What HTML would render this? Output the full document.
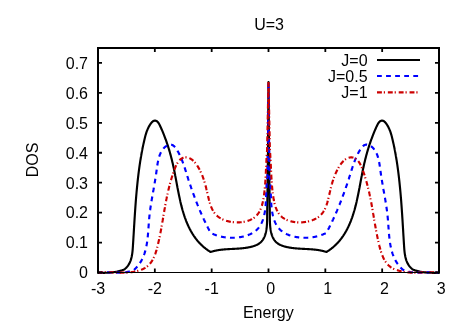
<!DOCTYPE html>
<html><head><meta charset="utf-8"><style>
html,body{margin:0;padding:0;background:#fff;}
svg{display:block;will-change:transform;}
text{font-family:"Liberation Sans",sans-serif;font-size:16px;fill:#000;}
</style></head><body>
<svg width="463" height="324" viewBox="0 0 463 324">
<rect width="463" height="324" fill="#fff"/>
<path d="M98.00,272.80 L98.52,272.81 L99.03,272.82 L99.55,272.82 L100.07,272.83 L100.58,272.83 L101.10,272.83 L101.62,272.83 L102.14,272.83 L102.65,272.83 L103.17,272.83 L103.69,272.82 L104.21,272.81 L104.73,272.81 L105.24,272.79 L105.76,272.78 L106.28,272.76 L106.79,272.74 L107.31,272.72 L107.83,272.69 L108.34,272.66 L108.86,272.63 L109.37,272.60 L109.89,272.56 L110.40,272.52 L110.92,272.47 L111.43,272.42 L111.95,272.37 L112.46,272.31 L112.97,272.25 L113.48,272.19 L113.99,272.12 L114.50,272.04 L115.01,271.96 L115.52,271.88 L116.02,271.79 L116.53,271.69 L117.04,271.60 L117.54,271.49 L118.04,271.38 L118.55,271.27 L119.05,271.15 L119.55,271.02 L120.05,270.89 L120.55,270.75 L121.04,270.60 L121.54,270.45 L122.03,270.30 L122.53,270.13 L123.02,269.96 L123.51,269.78 L124.00,269.60 L124.00,269.60 L124.42,269.29 L124.82,268.97 L125.21,268.64 L125.59,268.31 L125.95,267.97 L126.30,267.62 L126.64,267.27 L126.97,266.90 L127.28,266.53 L127.58,266.16 L127.87,265.78 L128.15,265.39 L128.41,264.99 L128.67,264.59 L128.92,264.19 L129.15,263.78 L129.38,263.36 L129.59,262.94 L129.80,262.51 L129.99,262.08 L130.18,261.64 L130.36,261.20 L130.53,260.75 L130.69,260.30 L130.84,259.84 L130.99,259.38 L131.13,258.92 L131.26,258.45 L131.38,257.98 L131.50,257.50 L131.61,257.03 L131.72,256.55 L131.81,256.06 L131.91,255.57 L131.99,255.08 L132.08,254.59 L132.15,254.09 L132.23,253.60 L132.29,253.10 L132.36,252.60 L132.42,252.09 L132.47,251.59 L132.53,251.08 L132.58,250.57 L132.62,250.06 L132.67,249.55 L132.71,249.04 L132.75,248.53 L132.79,248.01 L132.82,247.50 L132.86,246.99 L132.89,246.47 L132.93,245.96 L132.96,245.44 L132.99,244.93 L133.02,244.42 L133.06,243.90 L133.09,243.39 L133.12,242.88 L133.15,242.37 L133.18,241.85 L133.21,241.34 L133.25,240.83 L133.28,240.32 L133.31,239.81 L133.34,239.30 L133.37,238.79 L133.40,238.28 L133.43,237.77 L133.46,237.26 L133.49,236.75 L133.52,236.24 L133.56,235.74 L133.59,235.23 L133.62,234.72 L133.65,234.21 L133.68,233.71 L133.71,233.20 L133.74,232.69 L133.77,232.19 L133.80,231.68 L133.83,231.18 L133.86,230.67 L133.89,230.17 L133.92,229.66 L133.95,229.16 L133.98,228.65 L134.01,228.15 L134.04,227.64 L134.07,227.14 L134.10,226.64 L134.13,226.13 L134.16,225.63 L134.20,225.13 L134.23,224.62 L134.26,224.12 L134.29,223.62 L134.32,223.12 L134.35,222.62 L134.38,222.12 L134.41,221.61 L134.44,221.11 L134.47,220.61 L134.50,220.11 L134.54,219.61 L134.57,219.11 L134.60,218.61 L134.63,218.11 L134.66,217.61 L134.70,217.11 L134.73,216.61 L134.76,216.11 L134.79,215.61 L134.82,215.11 L134.86,214.61 L134.89,214.11 L134.92,213.62 L134.96,213.12 L134.99,212.62 L135.02,212.12 L135.06,211.62 L135.09,211.12 L135.12,210.63 L135.16,210.13 L135.19,209.63 L135.23,209.13 L135.26,208.64 L135.30,208.14 L135.33,207.64 L135.37,207.14 L135.40,206.65 L135.44,206.15 L135.48,205.65 L135.51,205.16 L135.55,204.66 L135.59,204.16 L135.62,203.67 L135.66,203.17 L135.70,202.67 L135.74,202.18 L135.77,201.68 L135.81,201.18 L135.85,200.69 L135.89,200.19 L135.93,199.69 L135.97,199.20 L136.01,198.70 L136.05,198.21 L136.09,197.71 L136.13,197.21 L136.17,196.72 L136.21,196.22 L136.25,195.73 L136.30,195.23 L136.34,194.73 L136.38,194.24 L136.43,193.74 L136.47,193.25 L136.51,192.75 L136.56,192.25 L136.60,191.76 L136.65,191.26 L136.69,190.77 L136.74,190.27 L136.78,189.77 L136.83,189.28 L136.88,188.78 L136.92,188.29 L136.97,187.79 L137.02,187.29 L137.07,186.80 L137.12,186.30 L137.17,185.81 L137.22,185.31 L137.27,184.81 L137.32,184.32 L137.37,183.82 L137.42,183.32 L137.47,182.83 L137.52,182.33 L137.58,181.83 L137.63,181.34 L137.68,180.84 L137.74,180.34 L137.79,179.84 L137.85,179.35 L137.90,178.85 L137.96,178.35 L138.02,177.86 L138.08,177.36 L138.13,176.86 L138.19,176.36 L138.25,175.87 L138.31,175.37 L138.37,174.87 L138.43,174.37 L138.49,173.88 L138.55,173.38 L138.62,172.88 L138.68,172.38 L138.74,171.89 L138.81,171.39 L138.87,170.89 L138.94,170.39 L139.00,169.90 L139.07,169.40 L139.14,168.90 L139.20,168.40 L139.27,167.91 L139.34,167.41 L139.41,166.91 L139.48,166.41 L139.55,165.92 L139.62,165.42 L139.70,164.92 L139.77,164.42 L139.84,163.93 L139.92,163.43 L139.99,162.93 L140.07,162.44 L140.15,161.94 L140.22,161.44 L140.30,160.95 L140.38,160.45 L140.46,159.95 L140.54,159.46 L140.62,158.96 L140.70,158.46 L140.78,157.97 L140.87,157.47 L140.95,156.97 L141.04,156.48 L141.12,155.98 L141.21,155.49 L141.29,154.99 L141.38,154.50 L141.47,154.00 L141.56,153.51 L141.65,153.01 L141.74,152.52 L141.83,152.02 L141.93,151.53 L142.02,151.03 L142.12,150.54 L142.21,150.04 L142.31,149.55 L142.40,149.05 L142.50,148.56 L142.60,148.07 L142.70,147.57 L142.80,147.08 L142.90,146.59 L143.01,146.09 L143.11,145.60 L143.21,145.11 L143.32,144.61 L143.43,144.12 L143.53,143.63 L143.64,143.14 L143.75,142.65 L143.86,142.15 L143.97,141.66 L144.08,141.17 L144.20,140.68 L144.31,140.19 L144.42,139.70 L144.54,139.21 L144.66,138.72 L144.78,138.23 L144.90,137.74 L145.02,137.25 L145.14,136.76 L145.27,136.27 L145.40,135.79 L145.54,135.30 L145.67,134.82 L145.81,134.33 L145.96,133.85 L146.11,133.37 L146.26,132.89 L146.42,132.41 L146.59,131.93 L146.75,131.46 L146.93,130.98 L147.11,130.51 L147.30,130.04 L147.49,129.57 L147.69,129.10 L147.90,128.64 L148.11,128.17 L148.34,127.71 L148.57,127.25 L148.81,126.80 L149.05,126.34 L149.31,125.89 L149.57,125.44 L149.85,124.99 L150.13,124.55 L150.42,124.11 L150.73,123.68 L151.04,123.26 L151.36,122.86 L151.69,122.47 L152.03,122.12 L152.37,121.79 L152.73,121.49 L153.09,121.24 L153.46,121.02 L153.84,120.85 L154.23,120.73 L154.62,120.66 L155.00,120.64 L155.39,120.67 L155.77,120.74 L156.13,120.86 L156.48,121.02 L156.82,121.23 L157.15,121.47 L157.47,121.75 L157.77,122.06 L158.07,122.40 L158.35,122.77 L158.63,123.17 L158.89,123.59 L159.15,124.02 L159.41,124.48 L159.65,124.95 L159.90,125.43 L160.13,125.93 L160.36,126.43 L160.59,126.93 L160.82,127.44 L161.04,127.94 L161.26,128.45 L161.48,128.95 L161.70,129.45 L161.91,129.95 L162.12,130.45 L162.33,130.95 L162.54,131.44 L162.75,131.94 L162.95,132.43 L163.15,132.93 L163.35,133.42 L163.55,133.91 L163.74,134.40 L163.94,134.89 L164.13,135.38 L164.32,135.86 L164.51,136.35 L164.69,136.83 L164.88,137.32 L165.06,137.80 L165.24,138.29 L165.42,138.77 L165.60,139.25 L165.77,139.73 L165.95,140.21 L166.12,140.69 L166.29,141.17 L166.46,141.64 L166.62,142.12 L166.79,142.60 L166.95,143.07 L167.11,143.55 L167.27,144.02 L167.43,144.50 L167.59,144.97 L167.74,145.44 L167.90,145.92 L168.05,146.39 L168.20,146.86 L168.35,147.33 L168.50,147.80 L168.64,148.27 L168.79,148.74 L168.93,149.21 L169.07,149.69 L169.22,150.16 L169.36,150.62 L169.49,151.09 L169.63,151.56 L169.77,152.03 L169.90,152.50 L170.03,152.97 L170.16,153.44 L170.30,153.91 L170.42,154.38 L170.55,154.85 L170.68,155.32 L170.81,155.79 L170.93,156.26 L171.05,156.73 L171.18,157.20 L171.30,157.67 L171.42,158.14 L171.54,158.61 L171.66,159.08 L171.77,159.55 L171.89,160.02 L172.01,160.50 L172.12,160.97 L172.23,161.44 L172.35,161.92 L172.46,162.39 L172.57,162.86 L172.68,163.34 L172.79,163.81 L172.90,164.29 L173.00,164.76 L173.11,165.24 L173.22,165.72 L173.32,166.20 L173.43,166.68 L173.53,167.16 L173.63,167.64 L173.74,168.12 L173.84,168.60 L173.94,169.08 L174.04,169.57 L174.14,170.05 L174.24,170.54 L174.34,171.02 L174.44,171.51 L174.54,172.00 L174.63,172.49 L174.73,172.98 L174.83,173.47 L174.92,173.96 L175.02,174.45 L175.12,174.94 L175.21,175.44 L175.31,175.93 L175.40,176.43 L175.49,176.92 L175.59,177.42 L175.68,177.92 L175.78,178.42 L175.87,178.92 L175.96,179.42 L176.06,179.92 L176.15,180.42 L176.24,180.92 L176.34,181.42 L176.43,181.92 L176.52,182.42 L176.62,182.93 L176.71,183.43 L176.80,183.93 L176.90,184.44 L176.99,184.94 L177.09,185.45 L177.18,185.95 L177.28,186.46 L177.37,186.96 L177.47,187.47 L177.56,187.98 L177.66,188.48 L177.76,188.99 L177.85,189.49 L177.95,190.00 L178.05,190.51 L178.15,191.01 L178.25,191.52 L178.35,192.03 L178.45,192.53 L178.55,193.04 L178.65,193.55 L178.75,194.05 L178.85,194.56 L178.96,195.07 L179.06,195.57 L179.17,196.08 L179.27,196.58 L179.38,197.09 L179.49,197.60 L179.60,198.10 L179.71,198.60 L179.82,199.11 L179.93,199.61 L180.04,200.12 L180.15,200.62 L180.27,201.12 L180.38,201.63 L180.50,202.13 L180.62,202.63 L180.74,203.13 L180.86,203.63 L180.98,204.13 L181.10,204.63 L181.23,205.13 L181.35,205.63 L181.48,206.12 L181.61,206.62 L181.74,207.12 L181.87,207.61 L182.00,208.11 L182.13,208.60 L182.27,209.09 L182.41,209.58 L182.54,210.08 L182.68,210.57 L182.83,211.05 L182.97,211.54 L183.11,212.03 L183.26,212.52 L183.41,213.00 L183.56,213.49 L183.71,213.97 L183.86,214.45 L184.02,214.94 L184.18,215.42 L184.33,215.90 L184.49,216.37 L184.66,216.85 L184.82,217.33 L184.99,217.80 L185.16,218.27 L185.33,218.75 L185.50,219.22 L185.68,219.69 L185.85,220.15 L186.03,220.62 L186.21,221.09 L186.40,221.55 L186.58,222.01 L186.77,222.47 L186.96,222.93 L187.15,223.39 L187.35,223.85 L187.55,224.30 L187.75,224.76 L187.95,225.21 L188.15,225.66 L188.36,226.11 L188.57,226.55 L188.78,227.00 L189.00,227.44 L189.21,227.88 L189.43,228.32 L189.66,228.76 L189.88,229.20 L190.11,229.63 L190.34,230.07 L190.57,230.50 L190.81,230.92 L191.05,231.35 L191.29,231.78 L191.53,232.20 L191.78,232.62 L192.03,233.04 L192.28,233.46 L192.54,233.87 L192.80,234.28 L193.06,234.69 L193.33,235.10 L193.59,235.51 L193.86,235.91 L194.14,236.32 L194.42,236.71 L194.70,237.11 L194.98,237.51 L195.27,237.90 L195.56,238.29 L195.85,238.68 L196.15,239.06 L196.45,239.45 L196.75,239.83 L197.06,240.21 L197.37,240.58 L197.68,240.96 L198.00,241.33 L198.32,241.70 L198.65,242.06 L198.98,242.43 L199.31,242.79 L199.64,243.14 L199.98,243.50 L200.32,243.85 L200.67,244.20 L201.02,244.55 L201.37,244.89 L201.73,245.23 L202.09,245.57 L202.46,245.91 L202.82,246.24 L203.20,246.57 L203.57,246.90 L203.95,247.23 L204.34,247.55 L204.73,247.87 L205.12,248.18 L205.52,248.49 L205.92,248.80 L206.32,249.11 L206.73,249.41 L207.14,249.71 L207.56,250.01 L207.98,250.30 L208.41,250.59 L208.84,250.88 L209.27,251.17 L209.71,251.45 L210.15,251.73 L210.60,252.00 L210.60,252.00 L211.08,251.84 L211.56,251.69 L212.03,251.55 L212.51,251.41 L213.00,251.27 L213.48,251.14 L213.96,251.02 L214.45,250.90 L214.93,250.79 L215.42,250.68 L215.91,250.58 L216.40,250.48 L216.89,250.39 L217.38,250.30 L217.87,250.21 L218.36,250.13 L218.85,250.05 L219.35,249.98 L219.84,249.91 L220.34,249.84 L220.84,249.78 L221.33,249.72 L221.83,249.66 L222.33,249.61 L222.83,249.56 L223.33,249.51 L223.83,249.46 L224.33,249.42 L224.84,249.38 L225.34,249.34 L225.84,249.30 L226.35,249.26 L226.85,249.23 L227.36,249.20 L227.87,249.17 L228.37,249.14 L228.88,249.11 L229.39,249.08 L229.90,249.05 L230.41,249.03 L230.92,249.00 L231.43,248.98 L231.94,248.95 L232.45,248.93 L232.96,248.90 L233.47,248.87 L233.98,248.85 L234.49,248.82 L235.01,248.80 L235.52,248.77 L236.03,248.74 L236.54,248.71 L237.06,248.68 L237.57,248.65 L238.09,248.61 L238.60,248.58 L239.11,248.54 L239.63,248.50 L240.14,248.46 L240.66,248.42 L241.17,248.37 L241.69,248.32 L242.20,248.27 L242.72,248.22 L243.23,248.16 L243.75,248.10 L244.26,248.04 L244.78,247.98 L245.29,247.91 L245.81,247.83 L246.33,247.76 L246.84,247.68 L247.35,247.59 L247.87,247.50 L248.38,247.41 L248.90,247.31 L249.41,247.21 L249.92,247.10 L250.43,246.99 L250.93,246.87 L251.43,246.74 L251.93,246.61 L252.43,246.47 L252.92,246.33 L253.40,246.18 L253.88,246.02 L254.36,245.86 L254.83,245.68 L255.29,245.50 L255.75,245.32 L256.20,245.12 L256.64,244.92 L257.08,244.70 L257.51,244.48 L257.93,244.25 L258.34,244.01 L258.74,243.76 L259.13,243.50 L259.51,243.23 L259.88,242.96 L260.24,242.67 L260.59,242.37 L260.93,242.05 L261.25,241.73 L261.57,241.40 L261.87,241.06 L262.16,240.70 L262.44,240.34 L262.71,239.97 L262.97,239.59 L263.22,239.20 L263.46,238.80 L263.69,238.39 L263.91,237.97 L264.12,237.55 L264.32,237.12 L264.51,236.68 L264.69,236.23 L264.86,235.78 L265.03,235.32 L265.19,234.85 L265.34,234.38 L265.48,233.91 L265.61,233.42 L265.74,232.94 L265.86,232.44 L265.97,231.95 L266.08,231.45 L266.17,230.94 L266.27,230.43 L266.35,229.92 L266.44,229.40 L266.51,228.89 L266.58,228.37 L266.65,227.84 L266.70,227.32 L266.76,226.79 L266.81,226.26 L266.86,225.73 L266.90,225.20 L266.93,224.67 L266.97,224.14 L267.00,223.61 L267.03,223.08 L267.05,222.55 L267.07,222.02 L267.09,221.49 L267.10,220.96 L267.12,220.43 L267.13,219.91 L267.14,219.39 L267.15,218.87 L267.15,218.35 L267.16,217.84 L267.16,217.32 L267.16,216.82 L267.17,216.31 L267.17,215.81 L267.17,215.32 L267.17,214.83 L267.18,214.34 L267.18,213.86 L267.18,213.39 L267.19,212.92 L267.19,212.46 L267.20,212.00 L267.20,212.00 L268.00,150.00 L268.50,82.00 L269.00,150.00 L269.80,212.00 L269.80,212.00 L269.81,212.46 L269.81,212.92 L269.82,213.39 L269.82,213.86 L269.82,214.34 L269.83,214.83 L269.83,215.32 L269.83,215.81 L269.83,216.31 L269.84,216.82 L269.84,217.32 L269.84,217.84 L269.85,218.35 L269.85,218.87 L269.86,219.39 L269.87,219.91 L269.88,220.43 L269.90,220.96 L269.91,221.49 L269.93,222.02 L269.95,222.55 L269.97,223.08 L270.00,223.61 L270.03,224.14 L270.07,224.67 L270.10,225.20 L270.14,225.73 L270.19,226.26 L270.24,226.79 L270.30,227.32 L270.35,227.84 L270.42,228.37 L270.49,228.89 L270.56,229.40 L270.65,229.92 L270.73,230.43 L270.83,230.94 L270.92,231.45 L271.03,231.95 L271.14,232.44 L271.26,232.94 L271.39,233.42 L271.52,233.91 L271.66,234.38 L271.81,234.85 L271.97,235.32 L272.14,235.78 L272.31,236.23 L272.49,236.68 L272.68,237.12 L272.88,237.55 L273.09,237.97 L273.31,238.39 L273.54,238.80 L273.78,239.20 L274.03,239.59 L274.29,239.97 L274.56,240.34 L274.84,240.70 L275.13,241.06 L275.43,241.40 L275.75,241.73 L276.07,242.05 L276.41,242.37 L276.76,242.67 L277.12,242.96 L277.49,243.23 L277.87,243.50 L278.26,243.76 L278.66,244.01 L279.07,244.25 L279.49,244.48 L279.92,244.70 L280.36,244.92 L280.80,245.12 L281.25,245.32 L281.71,245.50 L282.17,245.68 L282.64,245.86 L283.12,246.02 L283.60,246.18 L284.08,246.33 L284.57,246.47 L285.07,246.61 L285.57,246.74 L286.07,246.87 L286.57,246.99 L287.08,247.10 L287.59,247.21 L288.10,247.31 L288.62,247.41 L289.13,247.50 L289.65,247.59 L290.16,247.68 L290.67,247.76 L291.19,247.83 L291.71,247.91 L292.22,247.98 L292.74,248.04 L293.25,248.10 L293.77,248.16 L294.28,248.22 L294.80,248.27 L295.31,248.32 L295.83,248.37 L296.34,248.42 L296.86,248.46 L297.37,248.50 L297.89,248.54 L298.40,248.58 L298.91,248.61 L299.43,248.65 L299.94,248.68 L300.46,248.71 L300.97,248.74 L301.48,248.77 L301.99,248.80 L302.51,248.82 L303.02,248.85 L303.53,248.87 L304.04,248.90 L304.55,248.93 L305.06,248.95 L305.57,248.98 L306.08,249.00 L306.59,249.03 L307.10,249.05 L307.61,249.08 L308.12,249.11 L308.63,249.14 L309.13,249.17 L309.64,249.20 L310.15,249.23 L310.65,249.26 L311.16,249.30 L311.66,249.34 L312.16,249.38 L312.67,249.42 L313.17,249.46 L313.67,249.51 L314.17,249.56 L314.67,249.61 L315.17,249.66 L315.67,249.72 L316.16,249.78 L316.66,249.84 L317.16,249.91 L317.65,249.98 L318.15,250.05 L318.64,250.13 L319.13,250.21 L319.62,250.30 L320.11,250.39 L320.60,250.48 L321.09,250.58 L321.58,250.68 L322.07,250.79 L322.55,250.90 L323.04,251.02 L323.52,251.14 L324.00,251.27 L324.49,251.41 L324.97,251.55 L325.44,251.69 L325.92,251.84 L326.40,252.00 L326.40,252.00 L326.85,251.73 L327.29,251.45 L327.73,251.17 L328.16,250.88 L328.59,250.59 L329.02,250.30 L329.44,250.01 L329.86,249.71 L330.27,249.41 L330.68,249.11 L331.08,248.80 L331.48,248.49 L331.88,248.18 L332.27,247.87 L332.66,247.55 L333.05,247.23 L333.43,246.90 L333.80,246.57 L334.18,246.24 L334.54,245.91 L334.91,245.57 L335.27,245.23 L335.63,244.89 L335.98,244.55 L336.33,244.20 L336.68,243.85 L337.02,243.50 L337.36,243.14 L337.69,242.79 L338.02,242.43 L338.35,242.06 L338.68,241.70 L339.00,241.33 L339.32,240.96 L339.63,240.58 L339.94,240.21 L340.25,239.83 L340.55,239.45 L340.85,239.06 L341.15,238.68 L341.44,238.29 L341.73,237.90 L342.02,237.51 L342.30,237.11 L342.58,236.71 L342.86,236.32 L343.14,235.91 L343.41,235.51 L343.67,235.10 L343.94,234.69 L344.20,234.28 L344.46,233.87 L344.72,233.46 L344.97,233.04 L345.22,232.62 L345.47,232.20 L345.71,231.78 L345.95,231.35 L346.19,230.92 L346.43,230.50 L346.66,230.07 L346.89,229.63 L347.12,229.20 L347.34,228.76 L347.57,228.32 L347.79,227.88 L348.00,227.44 L348.22,227.00 L348.43,226.55 L348.64,226.11 L348.85,225.66 L349.05,225.21 L349.25,224.76 L349.45,224.30 L349.65,223.85 L349.85,223.39 L350.04,222.93 L350.23,222.47 L350.42,222.01 L350.60,221.55 L350.79,221.09 L350.97,220.62 L351.15,220.15 L351.32,219.69 L351.50,219.22 L351.67,218.75 L351.84,218.27 L352.01,217.80 L352.18,217.33 L352.34,216.85 L352.51,216.37 L352.67,215.90 L352.82,215.42 L352.98,214.94 L353.14,214.45 L353.29,213.97 L353.44,213.49 L353.59,213.00 L353.74,212.52 L353.89,212.03 L354.03,211.54 L354.17,211.05 L354.32,210.57 L354.46,210.08 L354.59,209.58 L354.73,209.09 L354.87,208.60 L355.00,208.11 L355.13,207.61 L355.26,207.12 L355.39,206.62 L355.52,206.12 L355.65,205.63 L355.77,205.13 L355.90,204.63 L356.02,204.13 L356.14,203.63 L356.26,203.13 L356.38,202.63 L356.50,202.13 L356.62,201.63 L356.73,201.12 L356.85,200.62 L356.96,200.12 L357.07,199.61 L357.18,199.11 L357.29,198.60 L357.40,198.10 L357.51,197.60 L357.62,197.09 L357.73,196.58 L357.83,196.08 L357.94,195.57 L358.04,195.07 L358.15,194.56 L358.25,194.05 L358.35,193.55 L358.45,193.04 L358.55,192.53 L358.65,192.03 L358.75,191.52 L358.85,191.01 L358.95,190.51 L359.05,190.00 L359.15,189.49 L359.24,188.99 L359.34,188.48 L359.44,187.98 L359.53,187.47 L359.63,186.96 L359.72,186.46 L359.82,185.95 L359.91,185.45 L360.01,184.94 L360.10,184.44 L360.20,183.93 L360.29,183.43 L360.38,182.93 L360.48,182.42 L360.57,181.92 L360.66,181.42 L360.76,180.92 L360.85,180.42 L360.94,179.92 L361.04,179.42 L361.13,178.92 L361.22,178.42 L361.32,177.92 L361.41,177.42 L361.51,176.92 L361.60,176.43 L361.69,175.93 L361.79,175.44 L361.88,174.94 L361.98,174.45 L362.08,173.96 L362.17,173.47 L362.27,172.98 L362.37,172.49 L362.46,172.00 L362.56,171.51 L362.66,171.02 L362.76,170.54 L362.86,170.05 L362.96,169.57 L363.06,169.08 L363.16,168.60 L363.26,168.12 L363.37,167.64 L363.47,167.16 L363.57,166.68 L363.68,166.20 L363.78,165.72 L363.89,165.24 L364.00,164.76 L364.10,164.29 L364.21,163.81 L364.32,163.34 L364.43,162.86 L364.54,162.39 L364.65,161.92 L364.77,161.44 L364.88,160.97 L364.99,160.50 L365.11,160.02 L365.23,159.55 L365.34,159.08 L365.46,158.61 L365.58,158.14 L365.70,157.67 L365.82,157.20 L365.95,156.73 L366.07,156.26 L366.19,155.79 L366.32,155.32 L366.45,154.85 L366.58,154.38 L366.70,153.91 L366.84,153.44 L366.97,152.97 L367.10,152.50 L367.23,152.03 L367.37,151.56 L367.51,151.09 L367.64,150.62 L367.78,150.16 L367.93,149.69 L368.07,149.21 L368.21,148.74 L368.36,148.27 L368.50,147.80 L368.65,147.33 L368.80,146.86 L368.95,146.39 L369.10,145.92 L369.26,145.44 L369.41,144.97 L369.57,144.50 L369.73,144.02 L369.89,143.55 L370.05,143.07 L370.21,142.60 L370.38,142.12 L370.54,141.64 L370.71,141.17 L370.88,140.69 L371.05,140.21 L371.23,139.73 L371.40,139.25 L371.58,138.77 L371.76,138.29 L371.94,137.80 L372.12,137.32 L372.31,136.83 L372.49,136.35 L372.68,135.86 L372.87,135.38 L373.06,134.89 L373.26,134.40 L373.45,133.91 L373.65,133.42 L373.85,132.93 L374.05,132.43 L374.25,131.94 L374.46,131.44 L374.67,130.95 L374.88,130.45 L375.09,129.95 L375.30,129.45 L375.52,128.95 L375.74,128.45 L375.96,127.94 L376.18,127.44 L376.41,126.93 L376.64,126.43 L376.87,125.93 L377.10,125.43 L377.35,124.95 L377.59,124.48 L377.85,124.02 L378.11,123.59 L378.37,123.17 L378.65,122.77 L378.93,122.40 L379.23,122.06 L379.53,121.75 L379.85,121.47 L380.18,121.23 L380.52,121.02 L380.87,120.86 L381.23,120.74 L381.61,120.67 L382.00,120.64 L382.38,120.66 L382.77,120.73 L383.16,120.85 L383.54,121.02 L383.91,121.24 L384.27,121.49 L384.63,121.79 L384.97,122.12 L385.31,122.47 L385.64,122.86 L385.96,123.26 L386.27,123.68 L386.58,124.11 L386.87,124.55 L387.15,124.99 L387.43,125.44 L387.69,125.89 L387.95,126.34 L388.19,126.80 L388.43,127.25 L388.66,127.71 L388.89,128.17 L389.10,128.64 L389.31,129.10 L389.51,129.57 L389.70,130.04 L389.89,130.51 L390.07,130.98 L390.25,131.46 L390.41,131.93 L390.58,132.41 L390.74,132.89 L390.89,133.37 L391.04,133.85 L391.19,134.33 L391.33,134.82 L391.46,135.30 L391.60,135.79 L391.73,136.27 L391.86,136.76 L391.98,137.25 L392.10,137.74 L392.22,138.23 L392.34,138.72 L392.46,139.21 L392.58,139.70 L392.69,140.19 L392.80,140.68 L392.92,141.17 L393.03,141.66 L393.14,142.15 L393.25,142.65 L393.36,143.14 L393.47,143.63 L393.57,144.12 L393.68,144.61 L393.79,145.11 L393.89,145.60 L393.99,146.09 L394.10,146.59 L394.20,147.08 L394.30,147.57 L394.40,148.07 L394.50,148.56 L394.60,149.05 L394.69,149.55 L394.79,150.04 L394.88,150.54 L394.98,151.03 L395.07,151.53 L395.17,152.02 L395.26,152.52 L395.35,153.01 L395.44,153.51 L395.53,154.00 L395.62,154.50 L395.71,154.99 L395.79,155.49 L395.88,155.98 L395.96,156.48 L396.05,156.97 L396.13,157.47 L396.22,157.97 L396.30,158.46 L396.38,158.96 L396.46,159.46 L396.54,159.95 L396.62,160.45 L396.70,160.95 L396.78,161.44 L396.85,161.94 L396.93,162.44 L397.01,162.93 L397.08,163.43 L397.16,163.93 L397.23,164.42 L397.30,164.92 L397.38,165.42 L397.45,165.92 L397.52,166.41 L397.59,166.91 L397.66,167.41 L397.73,167.91 L397.80,168.40 L397.86,168.90 L397.93,169.40 L398.00,169.90 L398.06,170.39 L398.13,170.89 L398.19,171.39 L398.26,171.89 L398.32,172.38 L398.38,172.88 L398.45,173.38 L398.51,173.88 L398.57,174.37 L398.63,174.87 L398.69,175.37 L398.75,175.87 L398.81,176.36 L398.87,176.86 L398.92,177.36 L398.98,177.86 L399.04,178.35 L399.10,178.85 L399.15,179.35 L399.21,179.84 L399.26,180.34 L399.32,180.84 L399.37,181.34 L399.42,181.83 L399.48,182.33 L399.53,182.83 L399.58,183.32 L399.63,183.82 L399.68,184.32 L399.73,184.81 L399.78,185.31 L399.83,185.81 L399.88,186.30 L399.93,186.80 L399.98,187.29 L400.03,187.79 L400.08,188.29 L400.12,188.78 L400.17,189.28 L400.22,189.77 L400.26,190.27 L400.31,190.77 L400.35,191.26 L400.40,191.76 L400.44,192.25 L400.49,192.75 L400.53,193.25 L400.57,193.74 L400.62,194.24 L400.66,194.73 L400.70,195.23 L400.75,195.73 L400.79,196.22 L400.83,196.72 L400.87,197.21 L400.91,197.71 L400.95,198.21 L400.99,198.70 L401.03,199.20 L401.07,199.69 L401.11,200.19 L401.15,200.69 L401.19,201.18 L401.23,201.68 L401.26,202.18 L401.30,202.67 L401.34,203.17 L401.38,203.67 L401.41,204.16 L401.45,204.66 L401.49,205.16 L401.52,205.65 L401.56,206.15 L401.60,206.65 L401.63,207.14 L401.67,207.64 L401.70,208.14 L401.74,208.64 L401.77,209.13 L401.81,209.63 L401.84,210.13 L401.88,210.63 L401.91,211.12 L401.94,211.62 L401.98,212.12 L402.01,212.62 L402.04,213.12 L402.08,213.62 L402.11,214.11 L402.14,214.61 L402.18,215.11 L402.21,215.61 L402.24,216.11 L402.27,216.61 L402.30,217.11 L402.34,217.61 L402.37,218.11 L402.40,218.61 L402.43,219.11 L402.46,219.61 L402.50,220.11 L402.53,220.61 L402.56,221.11 L402.59,221.61 L402.62,222.12 L402.65,222.62 L402.68,223.12 L402.71,223.62 L402.74,224.12 L402.77,224.62 L402.80,225.13 L402.84,225.63 L402.87,226.13 L402.90,226.64 L402.93,227.14 L402.96,227.64 L402.99,228.15 L403.02,228.65 L403.05,229.16 L403.08,229.66 L403.11,230.17 L403.14,230.67 L403.17,231.18 L403.20,231.68 L403.23,232.19 L403.26,232.69 L403.29,233.20 L403.32,233.71 L403.35,234.21 L403.38,234.72 L403.41,235.23 L403.44,235.74 L403.48,236.24 L403.51,236.75 L403.54,237.26 L403.57,237.77 L403.60,238.28 L403.63,238.79 L403.66,239.30 L403.69,239.81 L403.72,240.32 L403.75,240.83 L403.79,241.34 L403.82,241.85 L403.85,242.37 L403.88,242.88 L403.91,243.39 L403.94,243.90 L403.98,244.42 L404.01,244.93 L404.04,245.44 L404.07,245.96 L404.11,246.47 L404.14,246.99 L404.18,247.50 L404.21,248.01 L404.25,248.53 L404.29,249.04 L404.33,249.55 L404.38,250.06 L404.42,250.57 L404.47,251.08 L404.53,251.59 L404.58,252.09 L404.64,252.60 L404.71,253.10 L404.77,253.60 L404.85,254.09 L404.92,254.59 L405.01,255.08 L405.09,255.57 L405.19,256.06 L405.28,256.55 L405.39,257.03 L405.50,257.50 L405.62,257.98 L405.74,258.45 L405.87,258.92 L406.01,259.38 L406.16,259.84 L406.31,260.30 L406.47,260.75 L406.64,261.20 L406.82,261.64 L407.01,262.08 L407.20,262.51 L407.41,262.94 L407.62,263.36 L407.85,263.78 L408.08,264.19 L408.33,264.59 L408.59,264.99 L408.85,265.39 L409.13,265.78 L409.42,266.16 L409.72,266.53 L410.03,266.90 L410.36,267.27 L410.70,267.62 L411.05,267.97 L411.41,268.31 L411.79,268.64 L412.18,268.97 L412.58,269.29 L413.00,269.60 L413.00,269.60 L413.49,269.78 L413.98,269.96 L414.47,270.13 L414.97,270.30 L415.46,270.45 L415.96,270.60 L416.45,270.75 L416.95,270.89 L417.45,271.02 L417.95,271.15 L418.45,271.27 L418.96,271.38 L419.46,271.49 L419.96,271.60 L420.47,271.69 L420.98,271.79 L421.48,271.88 L421.99,271.96 L422.50,272.04 L423.01,272.12 L423.52,272.19 L424.03,272.25 L424.54,272.31 L425.05,272.37 L425.57,272.42 L426.08,272.47 L426.60,272.52 L427.11,272.56 L427.63,272.60 L428.14,272.63 L428.66,272.66 L429.17,272.69 L429.69,272.72 L430.21,272.74 L430.72,272.76 L431.24,272.78 L431.76,272.79 L432.27,272.81 L432.79,272.81 L433.31,272.82 L433.83,272.83 L434.35,272.83 L434.86,272.83 L435.38,272.83 L435.90,272.83 L436.42,272.83 L436.93,272.83 L437.45,272.82 L437.97,272.82 L438.48,272.81 L439.00,272.80" stroke="#000" stroke-width="2.15" fill="none" stroke-linejoin="round"/>
<path d="M98.00,272.80 L98.48,272.72 L98.96,272.65 L99.44,272.58 L99.93,272.52 L100.42,272.47 L100.91,272.43 L101.40,272.39 L101.90,272.35 L102.39,272.32 L102.89,272.30 L103.39,272.28 L103.90,272.27 L104.40,272.26 L104.91,272.25 L105.42,272.25 L105.93,272.25 L106.44,272.26 L106.95,272.27 L107.46,272.28 L107.97,272.29 L108.49,272.31 L109.01,272.33 L109.52,272.34 L110.04,272.36 L110.56,272.39 L111.08,272.41 L111.60,272.43 L112.12,272.46 L112.64,272.48 L113.16,272.50 L113.68,272.52 L114.20,272.55 L114.73,272.57 L115.25,272.59 L115.77,272.60 L116.29,272.62 L116.81,272.63 L117.33,272.64 L117.85,272.65 L118.38,272.66 L118.89,272.66 L119.41,272.66 L119.93,272.65 L120.45,272.64 L120.97,272.63 L121.48,272.61 L122.00,272.59 L122.51,272.56 L123.02,272.52 L123.53,272.48 L124.04,272.44 L124.55,272.38 L125.06,272.33 L125.57,272.26 L126.07,272.19 L126.57,272.11 L127.07,272.02 L127.57,271.92 L128.07,271.82 L128.56,271.71 L129.05,271.59 L129.54,271.46 L130.03,271.32 L130.51,271.17 L131.00,271.01 L131.48,270.84 L131.95,270.66 L132.43,270.47 L132.90,270.27 L133.37,270.06 L133.84,269.84 L134.30,269.60 L134.30,269.60 L134.68,269.25 L135.06,268.90 L135.43,268.54 L135.79,268.18 L136.14,267.82 L136.49,267.45 L136.83,267.08 L137.16,266.70 L137.49,266.32 L137.81,265.94 L138.12,265.56 L138.43,265.17 L138.73,264.78 L139.02,264.38 L139.31,263.98 L139.59,263.58 L139.86,263.17 L140.13,262.76 L140.39,262.35 L140.65,261.94 L140.90,261.52 L141.14,261.10 L141.38,260.67 L141.61,260.25 L141.84,259.82 L142.06,259.38 L142.28,258.95 L142.49,258.51 L142.69,258.07 L142.89,257.63 L143.09,257.18 L143.28,256.73 L143.46,256.28 L143.64,255.83 L143.82,255.37 L143.99,254.92 L144.16,254.46 L144.32,253.99 L144.48,253.53 L144.63,253.06 L144.78,252.59 L144.92,252.12 L145.06,251.65 L145.20,251.18 L145.33,250.70 L145.46,250.22 L145.58,249.74 L145.70,249.26 L145.82,248.77 L145.93,248.29 L146.04,247.80 L146.15,247.31 L146.25,246.82 L146.35,246.33 L146.45,245.84 L146.55,245.34 L146.64,244.85 L146.72,244.35 L146.81,243.85 L146.89,243.35 L146.97,242.85 L147.05,242.35 L147.12,241.84 L147.19,241.34 L147.26,240.83 L147.33,240.33 L147.40,239.82 L147.46,239.31 L147.52,238.80 L147.58,238.30 L147.63,237.79 L147.69,237.27 L147.74,236.76 L147.80,236.25 L147.85,235.74 L147.89,235.23 L147.94,234.71 L147.99,234.20 L148.03,233.68 L148.08,233.17 L148.12,232.66 L148.16,232.14 L148.20,231.63 L148.24,231.11 L148.28,230.60 L148.32,230.08 L148.36,229.57 L148.39,229.05 L148.43,228.54 L148.47,228.02 L148.50,227.51 L148.54,226.99 L148.57,226.48 L148.61,225.96 L148.65,225.45 L148.68,224.94 L148.72,224.43 L148.75,223.92 L148.79,223.40 L148.83,222.89 L148.87,222.38 L148.90,221.88 L148.94,221.37 L148.98,220.86 L149.02,220.35 L149.07,219.85 L149.11,219.34 L149.15,218.84 L149.20,218.34 L149.24,217.84 L149.29,217.34 L149.34,216.84 L149.39,216.34 L149.44,215.84 L149.49,215.35 L149.55,214.85 L149.60,214.36 L149.66,213.86 L149.72,213.37 L149.78,212.88 L149.83,212.39 L149.90,211.90 L149.96,211.41 L150.02,210.93 L150.08,210.44 L150.15,209.95 L150.22,209.47 L150.28,208.98 L150.35,208.50 L150.42,208.01 L150.49,207.53 L150.56,207.05 L150.63,206.57 L150.70,206.08 L150.78,205.60 L150.85,205.12 L150.93,204.64 L151.00,204.16 L151.08,203.68 L151.15,203.20 L151.23,202.72 L151.31,202.24 L151.39,201.76 L151.47,201.28 L151.55,200.81 L151.63,200.33 L151.71,199.85 L151.79,199.37 L151.87,198.89 L151.95,198.41 L152.04,197.93 L152.12,197.46 L152.20,196.98 L152.29,196.50 L152.37,196.02 L152.46,195.54 L152.54,195.06 L152.63,194.58 L152.71,194.10 L152.80,193.62 L152.88,193.14 L152.97,192.66 L153.06,192.17 L153.14,191.69 L153.23,191.21 L153.31,190.73 L153.40,190.24 L153.49,189.76 L153.57,189.27 L153.66,188.79 L153.75,188.30 L153.83,187.81 L153.92,187.33 L154.01,186.84 L154.09,186.35 L154.18,185.86 L154.26,185.37 L154.35,184.87 L154.44,184.38 L154.52,183.89 L154.61,183.39 L154.69,182.90 L154.77,182.40 L154.86,181.90 L154.94,181.40 L155.03,180.90 L155.11,180.40 L155.19,179.90 L155.27,179.39 L155.35,178.89 L155.44,178.38 L155.52,177.87 L155.60,177.37 L155.68,176.85 L155.75,176.34 L155.83,175.83 L155.91,175.31 L155.99,174.80 L156.06,174.28 L156.14,173.76 L156.21,173.24 L156.29,172.72 L156.36,172.19 L156.43,171.67 L156.51,171.14 L156.58,170.61 L156.65,170.08 L156.72,169.55 L156.79,169.02 L156.87,168.49 L156.94,167.95 L157.01,167.42 L157.09,166.89 L157.17,166.36 L157.25,165.83 L157.33,165.30 L157.41,164.77 L157.49,164.24 L157.58,163.72 L157.67,163.19 L157.77,162.67 L157.86,162.15 L157.97,161.63 L158.07,161.12 L158.18,160.60 L158.29,160.09 L158.41,159.59 L158.53,159.08 L158.66,158.58 L158.79,158.09 L158.92,157.60 L159.07,157.11 L159.22,156.63 L159.37,156.15 L159.53,155.67 L159.70,155.21 L159.87,154.74 L160.05,154.29 L160.24,153.83 L160.44,153.39 L160.64,152.95 L160.85,152.52 L161.07,152.09 L161.30,151.67 L161.53,151.26 L161.78,150.85 L162.03,150.45 L162.29,150.06 L162.56,149.68 L162.85,149.31 L163.14,148.94 L163.44,148.58 L163.75,148.23 L164.07,147.89 L164.41,147.56 L164.75,147.24 L165.11,146.93 L165.48,146.63 L165.85,146.34 L166.24,146.06 L166.64,145.80 L167.04,145.55 L167.46,145.33 L167.87,145.13 L168.29,144.96 L168.72,144.82 L169.14,144.71 L169.57,144.63 L169.99,144.58 L170.41,144.58 L170.83,144.61 L171.25,144.67 L171.66,144.77 L172.06,144.90 L172.46,145.07 L172.85,145.27 L173.23,145.51 L173.60,145.78 L173.96,146.07 L174.31,146.40 L174.65,146.75 L174.99,147.13 L175.32,147.52 L175.64,147.93 L175.95,148.36 L176.25,148.80 L176.55,149.26 L176.84,149.72 L177.13,150.19 L177.41,150.66 L177.68,151.14 L177.95,151.61 L178.21,152.09 L178.47,152.56 L178.72,153.04 L178.97,153.51 L179.21,153.99 L179.45,154.46 L179.68,154.94 L179.91,155.41 L180.13,155.88 L180.35,156.36 L180.57,156.83 L180.78,157.31 L180.99,157.78 L181.20,158.26 L181.40,158.73 L181.59,159.20 L181.79,159.68 L181.98,160.15 L182.17,160.63 L182.35,161.10 L182.53,161.57 L182.71,162.05 L182.89,162.52 L183.06,163.00 L183.23,163.47 L183.40,163.94 L183.57,164.42 L183.73,164.89 L183.89,165.36 L184.05,165.84 L184.21,166.31 L184.37,166.78 L184.53,167.26 L184.68,167.73 L184.84,168.21 L184.99,168.68 L185.14,169.15 L185.29,169.63 L185.44,170.10 L185.59,170.57 L185.74,171.05 L185.89,171.52 L186.03,172.00 L186.18,172.47 L186.33,172.94 L186.48,173.42 L186.62,173.89 L186.77,174.37 L186.92,174.84 L187.07,175.31 L187.22,175.79 L187.37,176.26 L187.52,176.74 L187.67,177.21 L187.83,177.69 L187.98,178.16 L188.13,178.63 L188.28,179.11 L188.44,179.58 L188.59,180.06 L188.75,180.53 L188.90,181.01 L189.06,181.48 L189.22,181.96 L189.38,182.43 L189.53,182.90 L189.69,183.38 L189.85,183.85 L190.01,184.33 L190.17,184.80 L190.33,185.28 L190.49,185.75 L190.66,186.22 L190.82,186.70 L190.98,187.17 L191.15,187.64 L191.31,188.12 L191.48,188.59 L191.64,189.07 L191.81,189.54 L191.98,190.01 L192.14,190.49 L192.31,190.96 L192.48,191.43 L192.65,191.90 L192.82,192.38 L192.99,192.85 L193.16,193.32 L193.33,193.79 L193.51,194.27 L193.68,194.74 L193.85,195.21 L194.03,195.68 L194.20,196.15 L194.38,196.62 L194.56,197.09 L194.73,197.56 L194.91,198.03 L195.09,198.51 L195.27,198.98 L195.45,199.45 L195.63,199.91 L195.81,200.38 L195.99,200.85 L196.18,201.32 L196.36,201.79 L196.54,202.26 L196.73,202.73 L196.91,203.20 L197.10,203.66 L197.29,204.13 L197.47,204.60 L197.66,205.06 L197.85,205.53 L198.04,206.00 L198.23,206.46 L198.42,206.93 L198.61,207.39 L198.81,207.86 L199.00,208.32 L199.19,208.79 L199.39,209.25 L199.58,209.72 L199.78,210.18 L199.98,210.64 L200.17,211.11 L200.37,211.57 L200.57,212.03 L200.77,212.49 L200.97,212.95 L201.17,213.41 L201.38,213.87 L201.58,214.33 L201.78,214.79 L201.99,215.25 L202.19,215.71 L202.40,216.17 L202.61,216.63 L202.81,217.09 L203.02,217.54 L203.23,218.00 L203.44,218.46 L203.65,218.91 L203.86,219.37 L204.08,219.82 L204.29,220.28 L204.50,220.73 L204.72,221.19 L204.93,221.64 L205.15,222.09 L205.37,222.54 L205.59,223.00 L205.80,223.45 L206.02,223.90 L206.25,224.35 L206.47,224.80 L206.69,225.25 L206.91,225.70 L207.14,226.14 L207.36,226.59 L207.59,227.04 L207.81,227.49 L208.04,227.93 L208.27,228.38 L208.50,228.82 L208.73,229.27 L208.96,229.71 L209.19,230.15 L209.42,230.60 L209.66,231.04 L209.89,231.48 L210.13,231.92 L210.36,232.36 L210.60,232.80 L210.60,232.80 L211.02,233.02 L211.45,233.24 L211.88,233.46 L212.32,233.66 L212.76,233.87 L213.20,234.06 L213.64,234.26 L214.09,234.44 L214.55,234.63 L215.00,234.80 L215.46,234.98 L215.93,235.14 L216.39,235.31 L216.86,235.46 L217.33,235.61 L217.81,235.76 L218.29,235.90 L218.77,236.04 L219.25,236.17 L219.74,236.30 L220.22,236.42 L220.72,236.53 L221.21,236.64 L221.70,236.75 L222.20,236.85 L222.70,236.94 L223.20,237.03 L223.71,237.12 L224.21,237.20 L224.72,237.27 L225.23,237.34 L225.74,237.40 L226.25,237.46 L226.77,237.52 L227.28,237.57 L227.80,237.61 L228.32,237.65 L228.84,237.68 L229.36,237.71 L229.88,237.73 L230.40,237.75 L230.92,237.76 L231.45,237.77 L231.97,237.77 L232.50,237.77 L233.03,237.76 L233.55,237.75 L234.08,237.73 L234.61,237.70 L235.13,237.68 L235.66,237.64 L236.19,237.60 L236.72,237.56 L237.24,237.51 L237.77,237.45 L238.29,237.39 L238.82,237.32 L239.34,237.25 L239.86,237.17 L240.38,237.09 L240.90,237.00 L241.42,236.91 L241.93,236.80 L242.44,236.70 L242.95,236.59 L243.46,236.47 L243.96,236.34 L244.46,236.21 L244.96,236.08 L245.45,235.93 L245.95,235.79 L246.43,235.63 L246.92,235.47 L247.40,235.30 L247.87,235.13 L248.34,234.95 L248.81,234.76 L249.27,234.57 L249.73,234.37 L250.18,234.17 L250.63,233.95 L251.07,233.74 L251.51,233.51 L251.94,233.28 L252.36,233.04 L252.78,232.79 L253.19,232.54 L253.60,232.28 L254.00,232.02 L254.39,231.74 L254.78,231.46 L255.16,231.18 L255.53,230.88 L255.89,230.58 L256.25,230.27 L256.60,229.96 L256.94,229.64 L257.27,229.31 L257.60,228.97 L257.91,228.62 L258.22,228.27 L258.52,227.91 L258.81,227.55 L259.09,227.18 L259.37,226.80 L259.64,226.41 L259.90,226.02 L260.15,225.62 L260.40,225.22 L260.64,224.81 L260.87,224.39 L261.10,223.97 L261.31,223.55 L261.53,223.12 L261.73,222.68 L261.93,222.24 L262.12,221.79 L262.31,221.34 L262.49,220.89 L262.66,220.43 L262.83,219.96 L262.99,219.50 L263.14,219.02 L263.29,218.55 L263.44,218.07 L263.58,217.58 L263.71,217.10 L263.84,216.61 L263.97,216.12 L264.09,215.62 L264.20,215.12 L264.31,214.62 L264.42,214.12 L264.52,213.61 L264.61,213.10 L264.71,212.59 L264.79,212.08 L264.88,211.57 L264.96,211.05 L265.04,210.53 L265.11,210.02 L265.18,209.50 L265.25,208.98 L265.31,208.45 L265.37,207.93 L265.42,207.41 L265.48,206.89 L265.53,206.36 L265.58,205.84 L265.62,205.31 L265.67,204.79 L265.71,204.27 L265.75,203.74 L265.78,203.22 L265.82,202.70 L265.85,202.18 L265.88,201.66 L265.91,201.14 L265.94,200.62 L265.96,200.10 L265.99,199.58 L266.01,199.07 L266.03,198.55 L266.05,198.03 L266.07,197.52 L266.09,197.00 L266.11,196.49 L266.13,195.98 L266.15,195.47 L266.16,194.95 L266.18,194.44 L266.20,193.93 L266.21,193.42 L266.23,192.92 L266.24,192.41 L266.26,191.90 L266.28,191.39 L266.29,190.89 L266.31,190.38 L266.33,189.88 L266.35,189.37 L266.36,188.87 L266.38,188.37 L266.41,187.87 L266.43,187.37 L266.45,186.87 L266.48,186.37 L266.50,185.87 L266.53,185.37 L266.56,184.87 L266.59,184.37 L266.62,183.88 L266.66,183.38 L266.69,182.88 L266.73,182.39 L266.77,181.89 L266.82,181.40 L266.86,180.91 L266.91,180.42 L266.96,179.92 L267.01,179.43 L267.07,178.94 L267.13,178.45 L267.19,177.96 L267.26,177.48 L267.33,176.99 L267.40,176.50 L267.40,176.50 L268.10,130.00 L268.50,82.00 L268.90,130.00 L269.60,176.50 L269.60,176.50 L269.67,176.99 L269.74,177.48 L269.81,177.96 L269.87,178.45 L269.93,178.94 L269.99,179.43 L270.04,179.92 L270.09,180.42 L270.14,180.91 L270.18,181.40 L270.23,181.89 L270.27,182.39 L270.31,182.88 L270.34,183.38 L270.38,183.88 L270.41,184.37 L270.44,184.87 L270.47,185.37 L270.50,185.87 L270.52,186.37 L270.55,186.87 L270.57,187.37 L270.59,187.87 L270.62,188.37 L270.64,188.87 L270.65,189.37 L270.67,189.88 L270.69,190.38 L270.71,190.89 L270.72,191.39 L270.74,191.90 L270.76,192.41 L270.77,192.92 L270.79,193.42 L270.80,193.93 L270.82,194.44 L270.84,194.95 L270.85,195.47 L270.87,195.98 L270.89,196.49 L270.91,197.00 L270.93,197.52 L270.95,198.03 L270.97,198.55 L270.99,199.07 L271.01,199.58 L271.04,200.10 L271.06,200.62 L271.09,201.14 L271.12,201.66 L271.15,202.18 L271.18,202.70 L271.22,203.22 L271.25,203.74 L271.29,204.27 L271.33,204.79 L271.38,205.31 L271.42,205.84 L271.47,206.36 L271.52,206.89 L271.58,207.41 L271.63,207.93 L271.69,208.45 L271.75,208.98 L271.82,209.50 L271.89,210.02 L271.96,210.53 L272.04,211.05 L272.12,211.57 L272.21,212.08 L272.29,212.59 L272.39,213.10 L272.48,213.61 L272.58,214.12 L272.69,214.62 L272.80,215.12 L272.91,215.62 L273.03,216.12 L273.16,216.61 L273.29,217.10 L273.42,217.58 L273.56,218.07 L273.71,218.55 L273.86,219.02 L274.01,219.50 L274.17,219.96 L274.34,220.43 L274.51,220.89 L274.69,221.34 L274.88,221.79 L275.07,222.24 L275.27,222.68 L275.47,223.12 L275.69,223.55 L275.90,223.97 L276.13,224.39 L276.36,224.81 L276.60,225.22 L276.85,225.62 L277.10,226.02 L277.36,226.41 L277.63,226.80 L277.91,227.18 L278.19,227.55 L278.48,227.91 L278.78,228.27 L279.09,228.62 L279.40,228.97 L279.73,229.31 L280.06,229.64 L280.40,229.96 L280.75,230.27 L281.11,230.58 L281.47,230.88 L281.84,231.18 L282.22,231.46 L282.61,231.74 L283.00,232.02 L283.40,232.28 L283.81,232.54 L284.22,232.79 L284.64,233.04 L285.06,233.28 L285.49,233.51 L285.93,233.74 L286.37,233.95 L286.82,234.17 L287.27,234.37 L287.73,234.57 L288.19,234.76 L288.66,234.95 L289.13,235.13 L289.60,235.30 L290.08,235.47 L290.57,235.63 L291.05,235.79 L291.55,235.93 L292.04,236.08 L292.54,236.21 L293.04,236.34 L293.54,236.47 L294.05,236.59 L294.56,236.70 L295.07,236.80 L295.58,236.91 L296.10,237.00 L296.62,237.09 L297.14,237.17 L297.66,237.25 L298.18,237.32 L298.71,237.39 L299.23,237.45 L299.76,237.51 L300.28,237.56 L300.81,237.60 L301.34,237.64 L301.87,237.68 L302.39,237.70 L302.92,237.73 L303.45,237.75 L303.97,237.76 L304.50,237.77 L305.03,237.77 L305.55,237.77 L306.08,237.76 L306.60,237.75 L307.12,237.73 L307.64,237.71 L308.16,237.68 L308.68,237.65 L309.20,237.61 L309.72,237.57 L310.23,237.52 L310.75,237.46 L311.26,237.40 L311.77,237.34 L312.28,237.27 L312.79,237.20 L313.29,237.12 L313.80,237.03 L314.30,236.94 L314.80,236.85 L315.30,236.75 L315.79,236.64 L316.28,236.53 L316.78,236.42 L317.26,236.30 L317.75,236.17 L318.23,236.04 L318.71,235.90 L319.19,235.76 L319.67,235.61 L320.14,235.46 L320.61,235.31 L321.07,235.14 L321.54,234.98 L322.00,234.80 L322.45,234.63 L322.91,234.44 L323.36,234.26 L323.80,234.06 L324.24,233.87 L324.68,233.66 L325.12,233.46 L325.55,233.24 L325.98,233.02 L326.40,232.80 L326.40,232.80 L326.64,232.36 L326.87,231.92 L327.11,231.48 L327.34,231.04 L327.58,230.60 L327.81,230.15 L328.04,229.71 L328.27,229.27 L328.50,228.82 L328.73,228.38 L328.96,227.93 L329.19,227.49 L329.41,227.04 L329.64,226.59 L329.86,226.14 L330.09,225.70 L330.31,225.25 L330.53,224.80 L330.75,224.35 L330.98,223.90 L331.20,223.45 L331.41,223.00 L331.63,222.54 L331.85,222.09 L332.07,221.64 L332.28,221.19 L332.50,220.73 L332.71,220.28 L332.92,219.82 L333.14,219.37 L333.35,218.91 L333.56,218.46 L333.77,218.00 L333.98,217.54 L334.19,217.09 L334.39,216.63 L334.60,216.17 L334.81,215.71 L335.01,215.25 L335.22,214.79 L335.42,214.33 L335.62,213.87 L335.83,213.41 L336.03,212.95 L336.23,212.49 L336.43,212.03 L336.63,211.57 L336.83,211.11 L337.02,210.64 L337.22,210.18 L337.42,209.72 L337.61,209.25 L337.81,208.79 L338.00,208.32 L338.19,207.86 L338.39,207.39 L338.58,206.93 L338.77,206.46 L338.96,206.00 L339.15,205.53 L339.34,205.06 L339.53,204.60 L339.71,204.13 L339.90,203.66 L340.09,203.20 L340.27,202.73 L340.46,202.26 L340.64,201.79 L340.82,201.32 L341.01,200.85 L341.19,200.38 L341.37,199.91 L341.55,199.45 L341.73,198.98 L341.91,198.51 L342.09,198.03 L342.27,197.56 L342.44,197.09 L342.62,196.62 L342.80,196.15 L342.97,195.68 L343.15,195.21 L343.32,194.74 L343.49,194.27 L343.67,193.79 L343.84,193.32 L344.01,192.85 L344.18,192.38 L344.35,191.90 L344.52,191.43 L344.69,190.96 L344.86,190.49 L345.02,190.01 L345.19,189.54 L345.36,189.07 L345.52,188.59 L345.69,188.12 L345.85,187.64 L346.02,187.17 L346.18,186.70 L346.34,186.22 L346.51,185.75 L346.67,185.28 L346.83,184.80 L346.99,184.33 L347.15,183.85 L347.31,183.38 L347.47,182.90 L347.62,182.43 L347.78,181.96 L347.94,181.48 L348.10,181.01 L348.25,180.53 L348.41,180.06 L348.56,179.58 L348.72,179.11 L348.87,178.63 L349.02,178.16 L349.17,177.69 L349.33,177.21 L349.48,176.74 L349.63,176.26 L349.78,175.79 L349.93,175.31 L350.08,174.84 L350.23,174.37 L350.38,173.89 L350.52,173.42 L350.67,172.94 L350.82,172.47 L350.97,172.00 L351.11,171.52 L351.26,171.05 L351.41,170.57 L351.56,170.10 L351.71,169.63 L351.86,169.15 L352.01,168.68 L352.16,168.21 L352.32,167.73 L352.47,167.26 L352.63,166.78 L352.79,166.31 L352.95,165.84 L353.11,165.36 L353.27,164.89 L353.43,164.42 L353.60,163.94 L353.77,163.47 L353.94,163.00 L354.11,162.52 L354.29,162.05 L354.47,161.57 L354.65,161.10 L354.83,160.63 L355.02,160.15 L355.21,159.68 L355.41,159.20 L355.60,158.73 L355.80,158.26 L356.01,157.78 L356.22,157.31 L356.43,156.83 L356.65,156.36 L356.87,155.88 L357.09,155.41 L357.32,154.94 L357.55,154.46 L357.79,153.99 L358.03,153.51 L358.28,153.04 L358.53,152.56 L358.79,152.09 L359.05,151.61 L359.32,151.14 L359.59,150.66 L359.87,150.19 L360.16,149.72 L360.45,149.26 L360.75,148.80 L361.05,148.36 L361.36,147.93 L361.68,147.52 L362.01,147.13 L362.35,146.75 L362.69,146.40 L363.04,146.07 L363.40,145.78 L363.77,145.51 L364.15,145.27 L364.54,145.07 L364.94,144.90 L365.34,144.77 L365.75,144.67 L366.17,144.61 L366.59,144.58 L367.01,144.58 L367.43,144.63 L367.86,144.71 L368.28,144.82 L368.71,144.96 L369.13,145.13 L369.54,145.33 L369.96,145.55 L370.36,145.80 L370.76,146.06 L371.15,146.34 L371.52,146.63 L371.89,146.93 L372.25,147.24 L372.59,147.56 L372.93,147.89 L373.25,148.23 L373.56,148.58 L373.86,148.94 L374.15,149.31 L374.44,149.68 L374.71,150.06 L374.97,150.45 L375.22,150.85 L375.47,151.26 L375.70,151.67 L375.93,152.09 L376.15,152.52 L376.36,152.95 L376.56,153.39 L376.76,153.83 L376.95,154.29 L377.13,154.74 L377.30,155.21 L377.47,155.67 L377.63,156.15 L377.78,156.63 L377.93,157.11 L378.08,157.60 L378.21,158.09 L378.34,158.58 L378.47,159.08 L378.59,159.59 L378.71,160.09 L378.82,160.60 L378.93,161.12 L379.03,161.63 L379.14,162.15 L379.23,162.67 L379.33,163.19 L379.42,163.72 L379.51,164.24 L379.59,164.77 L379.67,165.30 L379.75,165.83 L379.83,166.36 L379.91,166.89 L379.99,167.42 L380.06,167.95 L380.13,168.49 L380.21,169.02 L380.28,169.55 L380.35,170.08 L380.42,170.61 L380.49,171.14 L380.57,171.67 L380.64,172.19 L380.71,172.72 L380.79,173.24 L380.86,173.76 L380.94,174.28 L381.01,174.80 L381.09,175.31 L381.17,175.83 L381.25,176.34 L381.32,176.85 L381.40,177.37 L381.48,177.87 L381.56,178.38 L381.65,178.89 L381.73,179.39 L381.81,179.90 L381.89,180.40 L381.97,180.90 L382.06,181.40 L382.14,181.90 L382.23,182.40 L382.31,182.90 L382.39,183.39 L382.48,183.89 L382.56,184.38 L382.65,184.87 L382.74,185.37 L382.82,185.86 L382.91,186.35 L382.99,186.84 L383.08,187.33 L383.17,187.81 L383.25,188.30 L383.34,188.79 L383.43,189.27 L383.51,189.76 L383.60,190.24 L383.69,190.73 L383.77,191.21 L383.86,191.69 L383.94,192.17 L384.03,192.66 L384.12,193.14 L384.20,193.62 L384.29,194.10 L384.37,194.58 L384.46,195.06 L384.54,195.54 L384.63,196.02 L384.71,196.50 L384.80,196.98 L384.88,197.46 L384.96,197.93 L385.05,198.41 L385.13,198.89 L385.21,199.37 L385.29,199.85 L385.37,200.33 L385.45,200.81 L385.53,201.28 L385.61,201.76 L385.69,202.24 L385.77,202.72 L385.85,203.20 L385.92,203.68 L386.00,204.16 L386.07,204.64 L386.15,205.12 L386.22,205.60 L386.30,206.08 L386.37,206.57 L386.44,207.05 L386.51,207.53 L386.58,208.01 L386.65,208.50 L386.72,208.98 L386.78,209.47 L386.85,209.95 L386.92,210.44 L386.98,210.93 L387.04,211.41 L387.10,211.90 L387.17,212.39 L387.22,212.88 L387.28,213.37 L387.34,213.86 L387.40,214.36 L387.45,214.85 L387.51,215.35 L387.56,215.84 L387.61,216.34 L387.66,216.84 L387.71,217.34 L387.76,217.84 L387.80,218.34 L387.85,218.84 L387.89,219.34 L387.93,219.85 L387.98,220.35 L388.02,220.86 L388.06,221.37 L388.10,221.88 L388.13,222.38 L388.17,222.89 L388.21,223.40 L388.25,223.92 L388.28,224.43 L388.32,224.94 L388.35,225.45 L388.39,225.96 L388.43,226.48 L388.46,226.99 L388.50,227.51 L388.53,228.02 L388.57,228.54 L388.61,229.05 L388.64,229.57 L388.68,230.08 L388.72,230.60 L388.76,231.11 L388.80,231.63 L388.84,232.14 L388.88,232.66 L388.92,233.17 L388.97,233.68 L389.01,234.20 L389.06,234.71 L389.11,235.23 L389.15,235.74 L389.20,236.25 L389.26,236.76 L389.31,237.27 L389.37,237.79 L389.42,238.30 L389.48,238.80 L389.54,239.31 L389.60,239.82 L389.67,240.33 L389.74,240.83 L389.81,241.34 L389.88,241.84 L389.95,242.35 L390.03,242.85 L390.11,243.35 L390.19,243.85 L390.28,244.35 L390.36,244.85 L390.45,245.34 L390.55,245.84 L390.65,246.33 L390.75,246.82 L390.85,247.31 L390.96,247.80 L391.07,248.29 L391.18,248.77 L391.30,249.26 L391.42,249.74 L391.54,250.22 L391.67,250.70 L391.80,251.18 L391.94,251.65 L392.08,252.12 L392.22,252.59 L392.37,253.06 L392.52,253.53 L392.68,253.99 L392.84,254.46 L393.01,254.92 L393.18,255.37 L393.36,255.83 L393.54,256.28 L393.72,256.73 L393.91,257.18 L394.11,257.63 L394.31,258.07 L394.51,258.51 L394.72,258.95 L394.94,259.38 L395.16,259.82 L395.39,260.25 L395.62,260.67 L395.86,261.10 L396.10,261.52 L396.35,261.94 L396.61,262.35 L396.87,262.76 L397.14,263.17 L397.41,263.58 L397.69,263.98 L397.98,264.38 L398.27,264.78 L398.57,265.17 L398.88,265.56 L399.19,265.94 L399.51,266.32 L399.84,266.70 L400.17,267.08 L400.51,267.45 L400.86,267.82 L401.21,268.18 L401.57,268.54 L401.94,268.90 L402.32,269.25 L402.70,269.60 L402.70,269.60 L403.16,269.84 L403.63,270.06 L404.10,270.27 L404.57,270.47 L405.05,270.66 L405.52,270.84 L406.00,271.01 L406.49,271.17 L406.97,271.32 L407.46,271.46 L407.95,271.59 L408.44,271.71 L408.93,271.82 L409.43,271.92 L409.93,272.02 L410.43,272.11 L410.93,272.19 L411.43,272.26 L411.94,272.33 L412.45,272.38 L412.96,272.44 L413.47,272.48 L413.98,272.52 L414.49,272.56 L415.00,272.59 L415.52,272.61 L416.03,272.63 L416.55,272.64 L417.07,272.65 L417.59,272.66 L418.11,272.66 L418.62,272.66 L419.15,272.65 L419.67,272.64 L420.19,272.63 L420.71,272.62 L421.23,272.60 L421.75,272.59 L422.27,272.57 L422.80,272.55 L423.32,272.52 L423.84,272.50 L424.36,272.48 L424.88,272.46 L425.40,272.43 L425.92,272.41 L426.44,272.39 L426.96,272.36 L427.48,272.34 L427.99,272.33 L428.51,272.31 L429.03,272.29 L429.54,272.28 L430.05,272.27 L430.56,272.26 L431.07,272.25 L431.58,272.25 L432.09,272.25 L432.60,272.26 L433.10,272.27 L433.61,272.28 L434.11,272.30 L434.61,272.32 L435.10,272.35 L435.60,272.39 L436.09,272.43 L436.58,272.47 L437.07,272.52 L437.56,272.58 L438.04,272.65 L438.52,272.72 L439.00,272.80" stroke="#0000ff" stroke-width="2.15" fill="none" stroke-linejoin="round" stroke-dasharray="4.8 4.27"/>
<path d="M98.00,272.80 L98.49,272.73 L98.97,272.66 L99.46,272.59 L99.95,272.54 L100.45,272.48 L100.94,272.44 L101.43,272.39 L101.93,272.36 L102.43,272.32 L102.93,272.29 L103.43,272.27 L103.93,272.25 L104.43,272.23 L104.94,272.22 L105.44,272.21 L105.95,272.20 L106.45,272.20 L106.96,272.20 L107.47,272.20 L107.98,272.20 L108.49,272.21 L109.00,272.22 L109.51,272.23 L110.02,272.24 L110.54,272.26 L111.05,272.28 L111.56,272.29 L112.08,272.31 L112.59,272.33 L113.11,272.35 L113.62,272.37 L114.14,272.40 L114.66,272.42 L115.17,272.44 L115.69,272.46 L116.21,272.48 L116.73,272.51 L117.24,272.53 L117.76,272.55 L118.28,272.57 L118.80,272.58 L119.31,272.60 L119.83,272.62 L120.35,272.63 L120.87,272.64 L121.38,272.65 L121.90,272.66 L122.42,272.66 L122.93,272.67 L123.45,272.67 L123.96,272.66 L124.48,272.66 L124.99,272.65 L125.50,272.64 L126.02,272.62 L126.53,272.60 L127.04,272.58 L127.55,272.55 L128.06,272.52 L128.57,272.48 L129.08,272.44 L129.59,272.40 L130.10,272.34 L130.60,272.29 L131.11,272.23 L131.61,272.16 L132.11,272.09 L132.62,272.01 L133.12,271.93 L133.62,271.83 L134.11,271.74 L134.61,271.63 L135.11,271.52 L135.60,271.41 L136.09,271.28 L136.58,271.15 L137.07,271.01 L137.56,270.87 L138.05,270.71 L138.53,270.55 L139.02,270.38 L139.50,270.20 L139.50,270.20 L140.04,270.07 L140.56,269.92 L141.07,269.76 L141.58,269.59 L142.07,269.41 L142.55,269.22 L143.02,269.02 L143.49,268.81 L143.94,268.58 L144.38,268.35 L144.81,268.11 L145.23,267.86 L145.65,267.60 L146.05,267.32 L146.44,267.04 L146.83,266.75 L147.21,266.46 L147.57,266.15 L147.93,265.83 L148.28,265.51 L148.63,265.18 L148.96,264.84 L149.29,264.49 L149.61,264.14 L149.92,263.77 L150.22,263.40 L150.52,263.03 L150.81,262.64 L151.09,262.25 L151.36,261.86 L151.63,261.45 L151.89,261.05 L152.15,260.63 L152.39,260.21 L152.64,259.78 L152.87,259.35 L153.10,258.92 L153.33,258.48 L153.55,258.03 L153.76,257.58 L153.97,257.12 L154.17,256.67 L154.37,256.20 L154.56,255.73 L154.75,255.26 L154.93,254.79 L155.11,254.31 L155.29,253.83 L155.46,253.35 L155.62,252.86 L155.79,252.37 L155.95,251.88 L156.10,251.39 L156.25,250.89 L156.40,250.39 L156.55,249.90 L156.69,249.40 L156.83,248.89 L156.97,248.39 L157.10,247.89 L157.23,247.38 L157.36,246.88 L157.49,246.37 L157.62,245.87 L157.74,245.36 L157.86,244.86 L157.98,244.35 L158.10,243.85 L158.22,243.34 L158.34,242.84 L158.45,242.34 L158.57,241.84 L158.68,241.34 L158.79,240.83 L158.90,240.33 L159.01,239.83 L159.12,239.34 L159.23,238.84 L159.33,238.34 L159.44,237.84 L159.54,237.34 L159.64,236.85 L159.75,236.35 L159.85,235.86 L159.95,235.36 L160.05,234.87 L160.14,234.37 L160.24,233.88 L160.34,233.39 L160.43,232.89 L160.53,232.40 L160.62,231.91 L160.72,231.42 L160.81,230.93 L160.90,230.43 L160.99,229.94 L161.08,229.45 L161.17,228.96 L161.26,228.48 L161.35,227.99 L161.44,227.50 L161.52,227.01 L161.61,226.52 L161.70,226.03 L161.78,225.55 L161.87,225.06 L161.95,224.57 L162.04,224.08 L162.12,223.60 L162.21,223.11 L162.29,222.63 L162.37,222.14 L162.46,221.65 L162.54,221.17 L162.62,220.68 L162.71,220.20 L162.79,219.71 L162.87,219.23 L162.95,218.74 L163.03,218.26 L163.11,217.78 L163.20,217.29 L163.28,216.81 L163.36,216.32 L163.44,215.84 L163.52,215.36 L163.60,214.87 L163.68,214.39 L163.77,213.91 L163.85,213.42 L163.93,212.94 L164.01,212.46 L164.09,211.97 L164.18,211.49 L164.26,211.01 L164.34,210.53 L164.42,210.04 L164.51,209.56 L164.59,209.08 L164.68,208.59 L164.76,208.11 L164.85,207.63 L164.93,207.14 L165.02,206.66 L165.10,206.18 L165.19,205.69 L165.28,205.21 L165.36,204.73 L165.45,204.24 L165.54,203.76 L165.63,203.27 L165.72,202.79 L165.81,202.31 L165.90,201.82 L166.00,201.34 L166.09,200.85 L166.18,200.37 L166.28,199.88 L166.37,199.40 L166.47,198.91 L166.57,198.43 L166.66,197.94 L166.76,197.45 L166.86,196.97 L166.96,196.48 L167.06,195.99 L167.17,195.51 L167.27,195.02 L167.37,194.53 L167.48,194.04 L167.59,193.56 L167.69,193.07 L167.80,192.58 L167.91,192.09 L168.02,191.60 L168.14,191.11 L168.25,190.62 L168.36,190.13 L168.48,189.64 L168.60,189.15 L168.72,188.65 L168.84,188.16 L168.96,187.67 L169.08,187.18 L169.21,186.68 L169.33,186.19 L169.46,185.69 L169.59,185.20 L169.72,184.70 L169.85,184.21 L169.98,183.71 L170.12,183.21 L170.25,182.72 L170.39,182.22 L170.53,181.72 L170.67,181.22 L170.81,180.72 L170.96,180.22 L171.11,179.72 L171.25,179.22 L171.40,178.72 L171.55,178.22 L171.71,177.71 L171.86,177.21 L172.02,176.71 L172.18,176.20 L172.34,175.70 L172.50,175.19 L172.67,174.68 L172.84,174.18 L173.01,173.67 L173.18,173.16 L173.35,172.65 L173.53,172.14 L173.70,171.63 L173.88,171.12 L174.06,170.61 L174.25,170.10 L174.44,169.59 L174.63,169.08 L174.82,168.57 L175.02,168.07 L175.22,167.57 L175.43,167.08 L175.64,166.59 L175.85,166.11 L176.07,165.63 L176.29,165.16 L176.52,164.70 L176.76,164.25 L177.00,163.80 L177.25,163.36 L177.50,162.94 L177.76,162.52 L178.03,162.12 L178.30,161.73 L178.58,161.35 L178.87,160.99 L179.17,160.64 L179.47,160.30 L179.78,159.98 L180.10,159.67 L180.43,159.38 L180.77,159.11 L181.12,158.86 L181.48,158.62 L181.85,158.41 L182.22,158.21 L182.61,158.03 L183.01,157.88 L183.41,157.74 L183.82,157.63 L184.24,157.54 L184.66,157.47 L185.09,157.42 L185.53,157.40 L185.96,157.39 L186.40,157.41 L186.84,157.46 L187.28,157.52 L187.72,157.61 L188.16,157.72 L188.59,157.85 L189.03,158.00 L189.46,158.18 L189.88,158.37 L190.30,158.58 L190.72,158.81 L191.12,159.06 L191.52,159.33 L191.92,159.62 L192.31,159.92 L192.69,160.24 L193.07,160.57 L193.44,160.92 L193.81,161.28 L194.17,161.66 L194.52,162.04 L194.87,162.44 L195.21,162.85 L195.54,163.27 L195.87,163.70 L196.20,164.13 L196.51,164.58 L196.83,165.03 L197.13,165.49 L197.43,165.95 L197.73,166.42 L198.02,166.89 L198.30,167.37 L198.58,167.85 L198.85,168.33 L199.11,168.81 L199.37,169.29 L199.62,169.78 L199.87,170.26 L200.12,170.74 L200.35,171.22 L200.58,171.70 L200.81,172.17 L201.03,172.65 L201.24,173.12 L201.46,173.59 L201.66,174.06 L201.86,174.53 L202.06,175.00 L202.25,175.47 L202.44,175.94 L202.62,176.40 L202.80,176.87 L202.97,177.33 L203.14,177.80 L203.31,178.26 L203.47,178.73 L203.63,179.19 L203.79,179.65 L203.94,180.12 L204.09,180.58 L204.24,181.04 L204.38,181.50 L204.53,181.97 L204.66,182.43 L204.80,182.89 L204.93,183.36 L205.07,183.82 L205.20,184.29 L205.32,184.75 L205.45,185.22 L205.57,185.68 L205.69,186.15 L205.81,186.62 L205.93,187.09 L206.05,187.56 L206.17,188.03 L206.28,188.51 L206.40,188.98 L206.51,189.46 L206.63,189.93 L206.74,190.41 L206.85,190.89 L206.96,191.37 L207.07,191.86 L207.19,192.34 L207.30,192.83 L207.41,193.32 L207.52,193.81 L207.63,194.31 L207.75,194.80 L207.86,195.30 L207.98,195.80 L208.09,196.30 L208.21,196.81 L208.33,197.31 L208.45,197.81 L208.57,198.32 L208.70,198.83 L208.82,199.33 L208.95,199.84 L209.09,200.34 L209.22,200.84 L209.36,201.35 L209.50,201.85 L209.65,202.35 L209.79,202.85 L209.95,203.34 L210.10,203.83 L210.26,204.33 L210.43,204.81 L210.60,205.30 L210.77,205.78 L210.95,206.26 L211.14,206.73 L211.32,207.20 L211.52,207.66 L211.72,208.12 L211.93,208.58 L212.14,209.03 L212.36,209.47 L212.59,209.91 L212.82,210.34 L213.06,210.76 L213.31,211.18 L213.56,211.59 L213.82,212.00 L214.09,212.40 L214.37,212.78 L214.66,213.17 L214.95,213.54 L215.25,213.90 L215.56,214.26 L215.88,214.61 L216.21,214.95 L216.54,215.28 L216.89,215.60 L217.24,215.91 L217.59,216.22 L217.96,216.52 L218.33,216.81 L218.71,217.09 L219.10,217.36 L219.49,217.63 L219.90,217.89 L220.30,218.14 L220.72,218.38 L221.14,218.61 L221.56,218.84 L222.00,219.06 L222.43,219.27 L222.88,219.48 L223.33,219.68 L223.78,219.87 L224.24,220.05 L224.71,220.22 L225.18,220.39 L225.65,220.56 L226.13,220.71 L226.61,220.86 L227.10,221.00 L227.60,221.13 L228.09,221.26 L228.59,221.38 L229.10,221.50 L229.61,221.61 L230.12,221.71 L230.63,221.80 L231.15,221.89 L231.67,221.97 L232.19,222.04 L232.71,222.11 L233.24,222.17 L233.77,222.22 L234.30,222.27 L234.83,222.31 L235.36,222.34 L235.89,222.36 L236.42,222.38 L236.96,222.39 L237.49,222.39 L238.02,222.39 L238.55,222.38 L239.08,222.36 L239.61,222.33 L240.14,222.30 L240.67,222.26 L241.20,222.21 L241.72,222.15 L242.24,222.08 L242.76,222.01 L243.28,221.93 L243.79,221.84 L244.30,221.75 L244.81,221.64 L245.31,221.53 L245.81,221.41 L246.31,221.28 L246.80,221.15 L247.29,221.00 L247.77,220.85 L248.25,220.69 L248.72,220.52 L249.19,220.35 L249.65,220.16 L250.11,219.97 L250.56,219.77 L251.00,219.56 L251.44,219.34 L251.87,219.11 L252.29,218.87 L252.70,218.63 L253.11,218.38 L253.51,218.11 L253.90,217.84 L254.29,217.56 L254.66,217.28 L255.03,216.98 L255.38,216.67 L255.73,216.36 L256.07,216.04 L256.40,215.70 L256.72,215.36 L257.03,215.01 L257.33,214.65 L257.62,214.29 L257.91,213.91 L258.18,213.53 L258.45,213.14 L258.71,212.75 L258.96,212.34 L259.20,211.93 L259.44,211.52 L259.66,211.10 L259.88,210.67 L260.10,210.23 L260.30,209.79 L260.50,209.34 L260.69,208.89 L260.88,208.43 L261.06,207.97 L261.23,207.51 L261.40,207.04 L261.56,206.56 L261.72,206.08 L261.87,205.60 L262.01,205.11 L262.15,204.62 L262.28,204.13 L262.41,203.63 L262.54,203.13 L262.66,202.63 L262.77,202.13 L262.88,201.62 L262.99,201.11 L263.09,200.60 L263.19,200.09 L263.29,199.58 L263.38,199.06 L263.47,198.55 L263.55,198.03 L263.63,197.52 L263.71,197.00 L263.79,196.49 L263.87,195.97 L263.94,195.45 L264.01,194.94 L264.08,194.42 L264.14,193.91 L264.21,193.40 L264.27,192.89 L264.33,192.38 L264.39,191.87 L264.45,191.36 L264.51,190.85 L264.56,190.35 L264.62,189.84 L264.67,189.34 L264.72,188.84 L264.77,188.34 L264.82,187.84 L264.87,187.34 L264.91,186.84 L264.96,186.34 L265.00,185.84 L265.04,185.34 L265.08,184.85 L265.12,184.35 L265.16,183.86 L265.20,183.36 L265.24,182.87 L265.28,182.38 L265.31,181.88 L265.35,181.39 L265.38,180.90 L265.41,180.41 L265.44,179.92 L265.48,179.43 L265.51,178.94 L265.54,178.45 L265.56,177.96 L265.59,177.47 L265.62,176.98 L265.65,176.49 L265.67,176.00 L265.70,175.51 L265.73,175.02 L265.75,174.54 L265.78,174.05 L265.80,173.56 L265.83,173.07 L265.85,172.58 L265.87,172.09 L265.90,171.60 L265.92,171.11 L265.94,170.62 L265.96,170.13 L265.99,169.64 L266.01,169.15 L266.03,168.66 L266.05,168.17 L266.08,167.68 L266.10,167.19 L266.12,166.70 L266.14,166.20 L266.17,165.71 L266.19,165.22 L266.21,164.72 L266.23,164.23 L266.26,163.73 L266.28,163.24 L266.31,162.74 L266.33,162.24 L266.35,161.74 L266.38,161.25 L266.41,160.75 L266.43,160.24 L266.46,159.74 L266.49,159.24 L266.51,158.74 L266.54,158.23 L266.57,157.73 L266.60,157.22 L266.63,156.71 L266.66,156.20 L266.69,155.69 L266.72,155.18 L266.76,154.67 L266.79,154.16 L266.83,153.64 L266.86,153.13 L266.90,152.61 L266.94,152.09 L266.98,151.57 L267.02,151.05 L267.06,150.52 L267.10,150.00 L267.10,150.00 L267.80,115.00 L268.50,82.00 L269.20,115.00 L269.90,150.00 L269.90,150.00 L269.94,150.52 L269.98,151.05 L270.02,151.57 L270.06,152.09 L270.10,152.61 L270.14,153.13 L270.17,153.64 L270.21,154.16 L270.24,154.67 L270.28,155.18 L270.31,155.69 L270.34,156.20 L270.37,156.71 L270.40,157.22 L270.43,157.73 L270.46,158.23 L270.49,158.74 L270.51,159.24 L270.54,159.74 L270.57,160.24 L270.59,160.75 L270.62,161.25 L270.65,161.74 L270.67,162.24 L270.69,162.74 L270.72,163.24 L270.74,163.73 L270.77,164.23 L270.79,164.72 L270.81,165.22 L270.83,165.71 L270.86,166.20 L270.88,166.70 L270.90,167.19 L270.92,167.68 L270.95,168.17 L270.97,168.66 L270.99,169.15 L271.01,169.64 L271.04,170.13 L271.06,170.62 L271.08,171.11 L271.10,171.60 L271.13,172.09 L271.15,172.58 L271.17,173.07 L271.20,173.56 L271.22,174.05 L271.25,174.54 L271.27,175.02 L271.30,175.51 L271.33,176.00 L271.35,176.49 L271.38,176.98 L271.41,177.47 L271.44,177.96 L271.46,178.45 L271.49,178.94 L271.52,179.43 L271.56,179.92 L271.59,180.41 L271.62,180.90 L271.65,181.39 L271.69,181.88 L271.72,182.38 L271.76,182.87 L271.80,183.36 L271.84,183.86 L271.88,184.35 L271.92,184.85 L271.96,185.34 L272.00,185.84 L272.04,186.34 L272.09,186.84 L272.13,187.34 L272.18,187.84 L272.23,188.34 L272.28,188.84 L272.33,189.34 L272.38,189.84 L272.44,190.35 L272.49,190.85 L272.55,191.36 L272.61,191.87 L272.67,192.38 L272.73,192.89 L272.79,193.40 L272.86,193.91 L272.92,194.42 L272.99,194.94 L273.06,195.45 L273.13,195.97 L273.21,196.49 L273.29,197.00 L273.37,197.52 L273.45,198.03 L273.53,198.55 L273.62,199.06 L273.71,199.58 L273.81,200.09 L273.91,200.60 L274.01,201.11 L274.12,201.62 L274.23,202.13 L274.34,202.63 L274.46,203.13 L274.59,203.63 L274.72,204.13 L274.85,204.62 L274.99,205.11 L275.13,205.60 L275.28,206.08 L275.44,206.56 L275.60,207.04 L275.77,207.51 L275.94,207.97 L276.12,208.43 L276.31,208.89 L276.50,209.34 L276.70,209.79 L276.90,210.23 L277.12,210.67 L277.34,211.10 L277.56,211.52 L277.80,211.93 L278.04,212.34 L278.29,212.75 L278.55,213.14 L278.82,213.53 L279.09,213.91 L279.38,214.29 L279.67,214.65 L279.97,215.01 L280.28,215.36 L280.60,215.70 L280.93,216.04 L281.27,216.36 L281.62,216.67 L281.97,216.98 L282.34,217.28 L282.71,217.56 L283.10,217.84 L283.49,218.11 L283.89,218.38 L284.30,218.63 L284.71,218.87 L285.13,219.11 L285.56,219.34 L286.00,219.56 L286.44,219.77 L286.89,219.97 L287.35,220.16 L287.81,220.35 L288.28,220.52 L288.75,220.69 L289.23,220.85 L289.71,221.00 L290.20,221.15 L290.69,221.28 L291.19,221.41 L291.69,221.53 L292.19,221.64 L292.70,221.75 L293.21,221.84 L293.72,221.93 L294.24,222.01 L294.76,222.08 L295.28,222.15 L295.80,222.21 L296.33,222.26 L296.86,222.30 L297.39,222.33 L297.92,222.36 L298.45,222.38 L298.98,222.39 L299.51,222.39 L300.04,222.39 L300.58,222.38 L301.11,222.36 L301.64,222.34 L302.17,222.31 L302.70,222.27 L303.23,222.22 L303.76,222.17 L304.29,222.11 L304.81,222.04 L305.33,221.97 L305.85,221.89 L306.37,221.80 L306.88,221.71 L307.39,221.61 L307.90,221.50 L308.41,221.38 L308.91,221.26 L309.40,221.13 L309.90,221.00 L310.39,220.86 L310.87,220.71 L311.35,220.56 L311.82,220.39 L312.29,220.22 L312.76,220.05 L313.22,219.87 L313.67,219.68 L314.12,219.48 L314.57,219.27 L315.00,219.06 L315.44,218.84 L315.86,218.61 L316.28,218.38 L316.70,218.14 L317.10,217.89 L317.51,217.63 L317.90,217.36 L318.29,217.09 L318.67,216.81 L319.04,216.52 L319.41,216.22 L319.76,215.91 L320.11,215.60 L320.46,215.28 L320.79,214.95 L321.12,214.61 L321.44,214.26 L321.75,213.90 L322.05,213.54 L322.34,213.17 L322.63,212.78 L322.91,212.40 L323.18,212.00 L323.44,211.59 L323.69,211.18 L323.94,210.76 L324.18,210.34 L324.41,209.91 L324.64,209.47 L324.86,209.03 L325.07,208.58 L325.28,208.12 L325.48,207.66 L325.68,207.20 L325.86,206.73 L326.05,206.26 L326.23,205.78 L326.40,205.30 L326.57,204.81 L326.74,204.33 L326.90,203.83 L327.05,203.34 L327.21,202.85 L327.35,202.35 L327.50,201.85 L327.64,201.35 L327.78,200.84 L327.91,200.34 L328.05,199.84 L328.18,199.33 L328.30,198.83 L328.43,198.32 L328.55,197.81 L328.67,197.31 L328.79,196.81 L328.91,196.30 L329.02,195.80 L329.14,195.30 L329.25,194.80 L329.37,194.31 L329.48,193.81 L329.59,193.32 L329.70,192.83 L329.81,192.34 L329.93,191.86 L330.04,191.37 L330.15,190.89 L330.26,190.41 L330.37,189.93 L330.49,189.46 L330.60,188.98 L330.72,188.51 L330.83,188.03 L330.95,187.56 L331.07,187.09 L331.19,186.62 L331.31,186.15 L331.43,185.68 L331.55,185.22 L331.68,184.75 L331.80,184.29 L331.93,183.82 L332.07,183.36 L332.20,182.89 L332.34,182.43 L332.47,181.97 L332.62,181.50 L332.76,181.04 L332.91,180.58 L333.06,180.12 L333.21,179.65 L333.37,179.19 L333.53,178.73 L333.69,178.26 L333.86,177.80 L334.03,177.33 L334.20,176.87 L334.38,176.40 L334.56,175.94 L334.75,175.47 L334.94,175.00 L335.14,174.53 L335.34,174.06 L335.54,173.59 L335.76,173.12 L335.97,172.65 L336.19,172.17 L336.42,171.70 L336.65,171.22 L336.88,170.74 L337.13,170.26 L337.38,169.78 L337.63,169.29 L337.89,168.81 L338.15,168.33 L338.42,167.85 L338.70,167.37 L338.98,166.89 L339.27,166.42 L339.57,165.95 L339.87,165.49 L340.17,165.03 L340.49,164.58 L340.80,164.13 L341.13,163.70 L341.46,163.27 L341.79,162.85 L342.13,162.44 L342.48,162.04 L342.83,161.66 L343.19,161.28 L343.56,160.92 L343.93,160.57 L344.31,160.24 L344.69,159.92 L345.08,159.62 L345.48,159.33 L345.88,159.06 L346.28,158.81 L346.70,158.58 L347.12,158.37 L347.54,158.18 L347.97,158.00 L348.41,157.85 L348.84,157.72 L349.28,157.61 L349.72,157.52 L350.16,157.46 L350.60,157.41 L351.04,157.39 L351.47,157.40 L351.91,157.42 L352.34,157.47 L352.76,157.54 L353.18,157.63 L353.59,157.74 L353.99,157.88 L354.39,158.03 L354.78,158.21 L355.15,158.41 L355.52,158.62 L355.88,158.86 L356.23,159.11 L356.57,159.38 L356.90,159.67 L357.22,159.98 L357.53,160.30 L357.83,160.64 L358.13,160.99 L358.42,161.35 L358.70,161.73 L358.97,162.12 L359.24,162.52 L359.50,162.94 L359.75,163.36 L360.00,163.80 L360.24,164.25 L360.48,164.70 L360.71,165.16 L360.93,165.63 L361.15,166.11 L361.36,166.59 L361.57,167.08 L361.78,167.57 L361.98,168.07 L362.18,168.57 L362.37,169.08 L362.56,169.59 L362.75,170.10 L362.94,170.61 L363.12,171.12 L363.30,171.63 L363.47,172.14 L363.65,172.65 L363.82,173.16 L363.99,173.67 L364.16,174.18 L364.33,174.68 L364.50,175.19 L364.66,175.70 L364.82,176.20 L364.98,176.71 L365.14,177.21 L365.29,177.71 L365.45,178.22 L365.60,178.72 L365.75,179.22 L365.89,179.72 L366.04,180.22 L366.19,180.72 L366.33,181.22 L366.47,181.72 L366.61,182.22 L366.75,182.72 L366.88,183.21 L367.02,183.71 L367.15,184.21 L367.28,184.70 L367.41,185.20 L367.54,185.69 L367.67,186.19 L367.79,186.68 L367.92,187.18 L368.04,187.67 L368.16,188.16 L368.28,188.65 L368.40,189.15 L368.52,189.64 L368.64,190.13 L368.75,190.62 L368.86,191.11 L368.98,191.60 L369.09,192.09 L369.20,192.58 L369.31,193.07 L369.41,193.56 L369.52,194.04 L369.63,194.53 L369.73,195.02 L369.83,195.51 L369.94,195.99 L370.04,196.48 L370.14,196.97 L370.24,197.45 L370.34,197.94 L370.43,198.43 L370.53,198.91 L370.63,199.40 L370.72,199.88 L370.82,200.37 L370.91,200.85 L371.00,201.34 L371.10,201.82 L371.19,202.31 L371.28,202.79 L371.37,203.27 L371.46,203.76 L371.55,204.24 L371.64,204.73 L371.72,205.21 L371.81,205.69 L371.90,206.18 L371.98,206.66 L372.07,207.14 L372.15,207.63 L372.24,208.11 L372.32,208.59 L372.41,209.08 L372.49,209.56 L372.58,210.04 L372.66,210.53 L372.74,211.01 L372.82,211.49 L372.91,211.97 L372.99,212.46 L373.07,212.94 L373.15,213.42 L373.23,213.91 L373.32,214.39 L373.40,214.87 L373.48,215.36 L373.56,215.84 L373.64,216.32 L373.72,216.81 L373.80,217.29 L373.89,217.78 L373.97,218.26 L374.05,218.74 L374.13,219.23 L374.21,219.71 L374.29,220.20 L374.38,220.68 L374.46,221.17 L374.54,221.65 L374.63,222.14 L374.71,222.63 L374.79,223.11 L374.88,223.60 L374.96,224.08 L375.05,224.57 L375.13,225.06 L375.22,225.55 L375.30,226.03 L375.39,226.52 L375.48,227.01 L375.56,227.50 L375.65,227.99 L375.74,228.48 L375.83,228.96 L375.92,229.45 L376.01,229.94 L376.10,230.43 L376.19,230.93 L376.28,231.42 L376.38,231.91 L376.47,232.40 L376.57,232.89 L376.66,233.39 L376.76,233.88 L376.86,234.37 L376.95,234.87 L377.05,235.36 L377.15,235.86 L377.25,236.35 L377.36,236.85 L377.46,237.34 L377.56,237.84 L377.67,238.34 L377.77,238.84 L377.88,239.34 L377.99,239.83 L378.10,240.33 L378.21,240.83 L378.32,241.34 L378.43,241.84 L378.55,242.34 L378.66,242.84 L378.78,243.34 L378.90,243.85 L379.02,244.35 L379.14,244.86 L379.26,245.36 L379.38,245.87 L379.51,246.37 L379.64,246.88 L379.77,247.38 L379.90,247.89 L380.03,248.39 L380.17,248.89 L380.31,249.40 L380.45,249.90 L380.60,250.39 L380.75,250.89 L380.90,251.39 L381.05,251.88 L381.21,252.37 L381.38,252.86 L381.54,253.35 L381.71,253.83 L381.89,254.31 L382.07,254.79 L382.25,255.26 L382.44,255.73 L382.63,256.20 L382.83,256.67 L383.03,257.12 L383.24,257.58 L383.45,258.03 L383.67,258.48 L383.90,258.92 L384.13,259.35 L384.36,259.78 L384.61,260.21 L384.85,260.63 L385.11,261.05 L385.37,261.45 L385.64,261.86 L385.91,262.25 L386.19,262.64 L386.48,263.03 L386.78,263.40 L387.08,263.77 L387.39,264.14 L387.71,264.49 L388.04,264.84 L388.37,265.18 L388.72,265.51 L389.07,265.83 L389.43,266.15 L389.79,266.46 L390.17,266.75 L390.56,267.04 L390.95,267.32 L391.35,267.60 L391.77,267.86 L392.19,268.11 L392.62,268.35 L393.06,268.58 L393.51,268.81 L393.98,269.02 L394.45,269.22 L394.93,269.41 L395.42,269.59 L395.93,269.76 L396.44,269.92 L396.96,270.07 L397.50,270.20 L397.50,270.20 L397.98,270.38 L398.47,270.55 L398.95,270.71 L399.44,270.87 L399.93,271.01 L400.42,271.15 L400.91,271.28 L401.40,271.41 L401.89,271.52 L402.39,271.63 L402.89,271.74 L403.38,271.83 L403.88,271.93 L404.38,272.01 L404.89,272.09 L405.39,272.16 L405.89,272.23 L406.40,272.29 L406.90,272.34 L407.41,272.40 L407.92,272.44 L408.43,272.48 L408.94,272.52 L409.45,272.55 L409.96,272.58 L410.47,272.60 L410.98,272.62 L411.50,272.64 L412.01,272.65 L412.52,272.66 L413.04,272.66 L413.55,272.67 L414.07,272.67 L414.58,272.66 L415.10,272.66 L415.62,272.65 L416.13,272.64 L416.65,272.63 L417.17,272.62 L417.69,272.60 L418.20,272.58 L418.72,272.57 L419.24,272.55 L419.76,272.53 L420.27,272.51 L420.79,272.48 L421.31,272.46 L421.83,272.44 L422.34,272.42 L422.86,272.40 L423.38,272.37 L423.89,272.35 L424.41,272.33 L424.92,272.31 L425.44,272.29 L425.95,272.28 L426.46,272.26 L426.98,272.24 L427.49,272.23 L428.00,272.22 L428.51,272.21 L429.02,272.20 L429.53,272.20 L430.04,272.20 L430.55,272.20 L431.05,272.20 L431.56,272.21 L432.06,272.22 L432.57,272.23 L433.07,272.25 L433.57,272.27 L434.07,272.29 L434.57,272.32 L435.07,272.36 L435.57,272.39 L436.06,272.44 L436.55,272.48 L437.05,272.54 L437.54,272.59 L438.03,272.66 L438.51,272.73 L439.00,272.80" stroke="#cc0000" stroke-width="2.15" fill="none" stroke-linejoin="round" stroke-dasharray="4.9 1.9 1.2 2.85"/>
<path d="M98.00,272.5 V268.5 M98.00,48.0 V52.0 M154.83,272.5 V268.5 M154.83,48.0 V52.0 M211.67,272.5 V268.5 M211.67,48.0 V52.0 M268.50,272.5 V268.5 M268.50,48.0 V52.0 M325.33,272.5 V268.5 M325.33,48.0 V52.0 M382.17,272.5 V268.5 M382.17,48.0 V52.0 M439.00,272.5 V268.5 M439.00,48.0 V52.0 M98.0,272.50 H102.0 M439.0,272.50 H435.0 M98.0,242.57 H102.0 M439.0,242.57 H435.0 M98.0,212.63 H102.0 M439.0,212.63 H435.0 M98.0,182.70 H102.0 M439.0,182.70 H435.0 M98.0,152.77 H102.0 M439.0,152.77 H435.0 M98.0,122.83 H102.0 M439.0,122.83 H435.0 M98.0,92.90 H102.0 M439.0,92.90 H435.0 M98.0,62.97 H102.0 M439.0,62.97 H435.0" stroke="#000" stroke-width="1.8" fill="none"/>
<path d="M98.0,273.7 V48.0 H439.0 V273.7" fill="none" stroke="#000" stroke-width="2"/>
<path d="M97.0,272.5 H440.0" fill="none" stroke="#000" stroke-width="1.2"/>
<path d="M377,60 H420" stroke="#000" stroke-width="2.2"/>
<path d="M377,76 H420" stroke="#0000ff" stroke-width="2.2" stroke-dasharray="4.8 4.27"/>
<path d="M377,92.4 H420" stroke="#cc0000" stroke-width="2.2" stroke-dasharray="4.9 1.9 1.2 2.85"/>
<g opacity="0.999">
<text x="367.6" y="65.5" text-anchor="end">J=0</text>
<text x="367.6" y="81.5" text-anchor="end">J=0.5</text>
<text x="367.6" y="97.5" text-anchor="end">J=1</text>
<text x="269.1" y="29.7" text-anchor="middle">U=3</text>
<text x="268.3" y="318.1" text-anchor="middle">Energy</text>
<text transform="translate(37.6,160) rotate(-90)" text-anchor="middle">DOS</text>
<text x="98.00" y="294.1" text-anchor="middle">-3</text>
<text x="154.83" y="294.1" text-anchor="middle">-2</text>
<text x="211.67" y="294.1" text-anchor="middle">-1</text>
<text x="270.75" y="294.1" text-anchor="middle">0</text>
<text x="327.58" y="294.1" text-anchor="middle">1</text>
<text x="384.42" y="294.1" text-anchor="middle">2</text>
<text x="441.25" y="294.1" text-anchor="middle">3</text>
<text x="88" y="278.30" text-anchor="end">0</text>
<text x="88" y="248.37" text-anchor="end">0.1</text>
<text x="88" y="218.43" text-anchor="end">0.2</text>
<text x="88" y="188.50" text-anchor="end">0.3</text>
<text x="88" y="158.57" text-anchor="end">0.4</text>
<text x="88" y="128.63" text-anchor="end">0.5</text>
<text x="88" y="98.70" text-anchor="end">0.6</text>
<text x="88" y="68.77" text-anchor="end">0.7</text>
</g>
</svg>
</body></html>
